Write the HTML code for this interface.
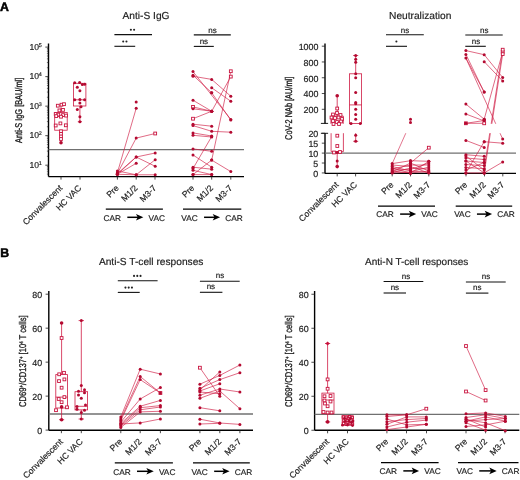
<!DOCTYPE html>
<html><head><meta charset="utf-8"><style>
html,body{margin:0;padding:0;background:#fff;}
svg{display:block;font-family:"Liberation Sans", sans-serif;will-change:transform;text-rendering:geometricPrecision;}
</style></head><body>
<svg width="520" height="480" viewBox="0 0 520 480">
<rect width="520" height="480" fill="#fff"/>
<text x="0.10" y="11.00" font-size="12.3" text-anchor="start" fill="#000" font-weight="bold" stroke="#000" stroke-width="0.5">A</text>
<text x="0.20" y="257.00" font-size="12.3" text-anchor="start" fill="#000" font-weight="bold" stroke="#000" stroke-width="0.5">B</text>
<text x="146.00" y="18.50" font-size="10.2" text-anchor="middle" fill="#1e1e1e" font-weight="normal" stroke="#1e1e1e" stroke-width="0.18">Anti-S IgG</text>
<line x1="48.50" y1="43.50" x2="48.50" y2="176.60" stroke="#000" stroke-width="1.4"/>
<line x1="48.50" y1="176.60" x2="244.00" y2="176.60" stroke="#000" stroke-width="1.4"/>
<line x1="45.30" y1="165.20" x2="48.50" y2="165.20" stroke="#1e1e1e" stroke-width="0.8"/>
<text x="39.00" y="167.80" font-size="8.6" text-anchor="end" fill="#1e1e1e" font-weight="normal" stroke="#1e1e1e" stroke-width="0.18">10</text>
<text x="38.70" y="164.80" font-size="5.4" text-anchor="start" fill="#1e1e1e" font-weight="normal" stroke="#1e1e1e" stroke-width="0.18">1</text>
<line x1="45.30" y1="135.67" x2="48.50" y2="135.67" stroke="#1e1e1e" stroke-width="0.8"/>
<text x="39.00" y="138.27" font-size="8.6" text-anchor="end" fill="#1e1e1e" font-weight="normal" stroke="#1e1e1e" stroke-width="0.18">10</text>
<text x="38.70" y="135.27" font-size="5.4" text-anchor="start" fill="#1e1e1e" font-weight="normal" stroke="#1e1e1e" stroke-width="0.18">2</text>
<line x1="45.30" y1="106.15" x2="48.50" y2="106.15" stroke="#1e1e1e" stroke-width="0.8"/>
<text x="39.00" y="108.75" font-size="8.6" text-anchor="end" fill="#1e1e1e" font-weight="normal" stroke="#1e1e1e" stroke-width="0.18">10</text>
<text x="38.70" y="105.75" font-size="5.4" text-anchor="start" fill="#1e1e1e" font-weight="normal" stroke="#1e1e1e" stroke-width="0.18">3</text>
<line x1="45.30" y1="76.62" x2="48.50" y2="76.62" stroke="#1e1e1e" stroke-width="0.8"/>
<text x="39.00" y="79.22" font-size="8.6" text-anchor="end" fill="#1e1e1e" font-weight="normal" stroke="#1e1e1e" stroke-width="0.18">10</text>
<text x="38.70" y="76.22" font-size="5.4" text-anchor="start" fill="#1e1e1e" font-weight="normal" stroke="#1e1e1e" stroke-width="0.18">4</text>
<line x1="45.30" y1="47.10" x2="48.50" y2="47.10" stroke="#1e1e1e" stroke-width="0.8"/>
<text x="39.00" y="49.70" font-size="8.6" text-anchor="end" fill="#1e1e1e" font-weight="normal" stroke="#1e1e1e" stroke-width="0.18">10</text>
<text x="38.70" y="46.70" font-size="5.4" text-anchor="start" fill="#1e1e1e" font-weight="normal" stroke="#1e1e1e" stroke-width="0.18">5</text>
<line x1="46.90" y1="174.09" x2="48.50" y2="174.09" stroke="#1e1e1e" stroke-width="0.6"/>
<line x1="46.90" y1="171.75" x2="48.50" y2="171.75" stroke="#1e1e1e" stroke-width="0.6"/>
<line x1="46.90" y1="169.77" x2="48.50" y2="169.77" stroke="#1e1e1e" stroke-width="0.6"/>
<line x1="46.90" y1="168.06" x2="48.50" y2="168.06" stroke="#1e1e1e" stroke-width="0.6"/>
<line x1="46.90" y1="166.55" x2="48.50" y2="166.55" stroke="#1e1e1e" stroke-width="0.6"/>
<line x1="46.90" y1="156.31" x2="48.50" y2="156.31" stroke="#1e1e1e" stroke-width="0.6"/>
<line x1="46.90" y1="151.11" x2="48.50" y2="151.11" stroke="#1e1e1e" stroke-width="0.6"/>
<line x1="46.90" y1="147.42" x2="48.50" y2="147.42" stroke="#1e1e1e" stroke-width="0.6"/>
<line x1="46.90" y1="144.56" x2="48.50" y2="144.56" stroke="#1e1e1e" stroke-width="0.6"/>
<line x1="46.90" y1="142.23" x2="48.50" y2="142.23" stroke="#1e1e1e" stroke-width="0.6"/>
<line x1="46.90" y1="140.25" x2="48.50" y2="140.25" stroke="#1e1e1e" stroke-width="0.6"/>
<line x1="46.90" y1="138.54" x2="48.50" y2="138.54" stroke="#1e1e1e" stroke-width="0.6"/>
<line x1="46.90" y1="137.03" x2="48.50" y2="137.03" stroke="#1e1e1e" stroke-width="0.6"/>
<line x1="46.90" y1="126.79" x2="48.50" y2="126.79" stroke="#1e1e1e" stroke-width="0.6"/>
<line x1="46.90" y1="121.59" x2="48.50" y2="121.59" stroke="#1e1e1e" stroke-width="0.6"/>
<line x1="46.90" y1="117.90" x2="48.50" y2="117.90" stroke="#1e1e1e" stroke-width="0.6"/>
<line x1="46.90" y1="115.04" x2="48.50" y2="115.04" stroke="#1e1e1e" stroke-width="0.6"/>
<line x1="46.90" y1="112.70" x2="48.50" y2="112.70" stroke="#1e1e1e" stroke-width="0.6"/>
<line x1="46.90" y1="110.72" x2="48.50" y2="110.72" stroke="#1e1e1e" stroke-width="0.6"/>
<line x1="46.90" y1="109.01" x2="48.50" y2="109.01" stroke="#1e1e1e" stroke-width="0.6"/>
<line x1="46.90" y1="107.50" x2="48.50" y2="107.50" stroke="#1e1e1e" stroke-width="0.6"/>
<line x1="46.90" y1="97.26" x2="48.50" y2="97.26" stroke="#1e1e1e" stroke-width="0.6"/>
<line x1="46.90" y1="92.06" x2="48.50" y2="92.06" stroke="#1e1e1e" stroke-width="0.6"/>
<line x1="46.90" y1="88.37" x2="48.50" y2="88.37" stroke="#1e1e1e" stroke-width="0.6"/>
<line x1="46.90" y1="85.51" x2="48.50" y2="85.51" stroke="#1e1e1e" stroke-width="0.6"/>
<line x1="46.90" y1="83.18" x2="48.50" y2="83.18" stroke="#1e1e1e" stroke-width="0.6"/>
<line x1="46.90" y1="81.20" x2="48.50" y2="81.20" stroke="#1e1e1e" stroke-width="0.6"/>
<line x1="46.90" y1="79.49" x2="48.50" y2="79.49" stroke="#1e1e1e" stroke-width="0.6"/>
<line x1="46.90" y1="77.98" x2="48.50" y2="77.98" stroke="#1e1e1e" stroke-width="0.6"/>
<line x1="46.90" y1="67.74" x2="48.50" y2="67.74" stroke="#1e1e1e" stroke-width="0.6"/>
<line x1="46.90" y1="62.54" x2="48.50" y2="62.54" stroke="#1e1e1e" stroke-width="0.6"/>
<line x1="46.90" y1="58.85" x2="48.50" y2="58.85" stroke="#1e1e1e" stroke-width="0.6"/>
<line x1="46.90" y1="55.99" x2="48.50" y2="55.99" stroke="#1e1e1e" stroke-width="0.6"/>
<line x1="46.90" y1="53.65" x2="48.50" y2="53.65" stroke="#1e1e1e" stroke-width="0.6"/>
<line x1="46.90" y1="51.67" x2="48.50" y2="51.67" stroke="#1e1e1e" stroke-width="0.6"/>
<line x1="46.90" y1="49.96" x2="48.50" y2="49.96" stroke="#1e1e1e" stroke-width="0.6"/>
<line x1="46.90" y1="48.45" x2="48.50" y2="48.45" stroke="#1e1e1e" stroke-width="0.6"/>
<line x1="48.50" y1="149.60" x2="244.00" y2="149.60" stroke="#707070" stroke-width="1.3"/>
<line x1="61.00" y1="176.60" x2="61.00" y2="179.60" stroke="#1e1e1e" stroke-width="0.8"/>
<line x1="80.00" y1="176.60" x2="80.00" y2="179.60" stroke="#1e1e1e" stroke-width="0.8"/>
<line x1="117.40" y1="176.60" x2="117.40" y2="179.60" stroke="#1e1e1e" stroke-width="0.8"/>
<line x1="136.20" y1="176.60" x2="136.20" y2="179.60" stroke="#1e1e1e" stroke-width="0.8"/>
<line x1="155.00" y1="176.60" x2="155.00" y2="179.60" stroke="#1e1e1e" stroke-width="0.8"/>
<line x1="193.00" y1="176.60" x2="193.00" y2="179.60" stroke="#1e1e1e" stroke-width="0.8"/>
<line x1="211.70" y1="176.60" x2="211.70" y2="179.60" stroke="#1e1e1e" stroke-width="0.8"/>
<line x1="230.80" y1="176.60" x2="230.80" y2="179.60" stroke="#1e1e1e" stroke-width="0.8"/>
<text x="0" y="0" font-size="9.8" text-anchor="middle" fill="#1e1e1e" textLength="65.2" lengthAdjust="spacingAndGlyphs" stroke="#1e1e1e" stroke-width="0.35" transform="translate(21.80 110.35) rotate(-90)">Anti-S IgG [BAU/ml]</text>
<line x1="114.40" y1="34.60" x2="152.00" y2="34.60" stroke="#111" stroke-width="1.1"/>
<circle cx="130.88" cy="29.80" r="1.05" fill="#222"/>
<circle cx="134.12" cy="29.80" r="1.05" fill="#222"/>
<line x1="114.40" y1="46.30" x2="135.20" y2="46.30" stroke="#111" stroke-width="1.1"/>
<circle cx="123.22" cy="41.50" r="1.05" fill="#222"/>
<circle cx="126.47" cy="41.50" r="1.05" fill="#222"/>
<line x1="193.80" y1="34.90" x2="230.80" y2="34.90" stroke="#111" stroke-width="1.1"/>
<text x="212.50" y="33.00" font-size="8" text-anchor="middle" fill="#1e1e1e" font-weight="normal" stroke="#1e1e1e" stroke-width="0.18">ns</text>
<line x1="193.80" y1="46.40" x2="213.80" y2="46.40" stroke="#111" stroke-width="1.1"/>
<text x="203.90" y="44.00" font-size="8" text-anchor="middle" fill="#1e1e1e" font-weight="normal" stroke="#1e1e1e" stroke-width="0.18">ns</text>
<text x="63.00" y="188.60" font-size="8.6" text-anchor="end" fill="#1e1e1e" stroke="#1e1e1e" stroke-width="0.18" transform="rotate(-45 63.00 188.60)">Convalescent</text>
<text x="82.00" y="188.60" font-size="8.6" text-anchor="end" fill="#1e1e1e" stroke="#1e1e1e" stroke-width="0.18" transform="rotate(-45 82.00 188.60)">HC VAC</text>
<text x="119.40" y="188.60" font-size="8.6" text-anchor="end" fill="#1e1e1e" stroke="#1e1e1e" stroke-width="0.18" transform="rotate(-45 119.40 188.60)">Pre</text>
<text x="138.20" y="188.60" font-size="8.6" text-anchor="end" fill="#1e1e1e" stroke="#1e1e1e" stroke-width="0.18" transform="rotate(-45 138.20 188.60)">M1/2</text>
<text x="157.00" y="188.60" font-size="8.6" text-anchor="end" fill="#1e1e1e" stroke="#1e1e1e" stroke-width="0.18" transform="rotate(-45 157.00 188.60)">M3-7</text>
<text x="195.00" y="188.60" font-size="8.6" text-anchor="end" fill="#1e1e1e" stroke="#1e1e1e" stroke-width="0.18" transform="rotate(-45 195.00 188.60)">Pre</text>
<text x="213.70" y="188.60" font-size="8.6" text-anchor="end" fill="#1e1e1e" stroke="#1e1e1e" stroke-width="0.18" transform="rotate(-45 213.70 188.60)">M1/2</text>
<text x="232.80" y="188.60" font-size="8.6" text-anchor="end" fill="#1e1e1e" stroke="#1e1e1e" stroke-width="0.18" transform="rotate(-45 232.80 188.60)">M3-7</text>
<line x1="105.80" y1="209.20" x2="162.90" y2="209.20" stroke="#000" stroke-width="1.25"/>
<text x="103.50" y="220.60" font-size="8.3" text-anchor="start" fill="#1e1e1e" font-weight="normal" stroke="#1e1e1e" stroke-width="0.18">CAR</text>
<text x="165.00" y="220.60" font-size="8.3" text-anchor="end" fill="#1e1e1e" font-weight="normal" stroke="#1e1e1e" stroke-width="0.18">VAC</text>
<line x1="127.32" y1="217.30" x2="139.35" y2="217.30" stroke="#000" stroke-width="1.5"/>
<path d="M143.35,217.30 L135.95,214.00 L137.75,217.30 L135.95,220.60 Z" fill="#000"/>
<line x1="183.00" y1="209.20" x2="241.30" y2="209.20" stroke="#000" stroke-width="1.25"/>
<text x="181.30" y="220.60" font-size="8.3" text-anchor="start" fill="#1e1e1e" font-weight="normal" stroke="#1e1e1e" stroke-width="0.18">VAC</text>
<text x="242.80" y="220.60" font-size="8.3" text-anchor="end" fill="#1e1e1e" font-weight="normal" stroke="#1e1e1e" stroke-width="0.18">CAR</text>
<line x1="204.05" y1="217.30" x2="216.08" y2="217.30" stroke="#000" stroke-width="1.5"/>
<path d="M220.08,217.30 L212.68,214.00 L214.48,217.30 L212.68,220.60 Z" fill="#000"/>
<line x1="61.00" y1="104.00" x2="61.00" y2="112.50" stroke="#cf1a43" stroke-width="0.8"/>
<line x1="61.00" y1="130.20" x2="61.00" y2="142.70" stroke="#cf1a43" stroke-width="0.8"/>
<rect x="54.70" y="112.50" width="12.50" height="17.70" fill="none" stroke="#cf1a43" stroke-width="0.8"/>
<line x1="54.70" y1="116.50" x2="67.20" y2="116.50" stroke="#cf1a43" stroke-width="0.8"/>
<rect x="56.40" y="104.30" width="2.8" height="2.8" fill="#fff" stroke="#c8133e" stroke-width="0.9"/>
<rect x="60.10" y="103.30" width="2.8" height="2.8" fill="#fff" stroke="#c8133e" stroke-width="0.9"/>
<rect x="62.60" y="102.80" width="2.8" height="2.8" fill="#fff" stroke="#c8133e" stroke-width="0.9"/>
<rect x="58.00" y="109.00" width="2.8" height="2.8" fill="#fff" stroke="#c8133e" stroke-width="0.9"/>
<rect x="61.60" y="108.50" width="2.8" height="2.8" fill="#fff" stroke="#c8133e" stroke-width="0.9"/>
<rect x="54.30" y="112.60" width="2.8" height="2.8" fill="#fff" stroke="#c8133e" stroke-width="0.9"/>
<rect x="56.90" y="113.20" width="2.8" height="2.8" fill="#fff" stroke="#c8133e" stroke-width="0.9"/>
<rect x="61.60" y="113.70" width="2.8" height="2.8" fill="#fff" stroke="#c8133e" stroke-width="0.9"/>
<rect x="64.70" y="114.20" width="2.8" height="2.8" fill="#fff" stroke="#c8133e" stroke-width="0.9"/>
<rect x="54.85" y="114.70" width="2.8" height="2.8" fill="#fff" stroke="#c8133e" stroke-width="0.9"/>
<rect x="59.60" y="115.30" width="2.8" height="2.8" fill="#fff" stroke="#c8133e" stroke-width="0.9"/>
<rect x="59.00" y="122.00" width="2.8" height="2.8" fill="#fff" stroke="#c8133e" stroke-width="0.9"/>
<rect x="54.30" y="124.10" width="2.8" height="2.8" fill="#fff" stroke="#c8133e" stroke-width="0.9"/>
<rect x="64.40" y="123.90" width="2.8" height="2.8" fill="#fff" stroke="#c8133e" stroke-width="0.9"/>
<rect x="59.60" y="129.85" width="2.8" height="2.8" fill="#fff" stroke="#c8133e" stroke-width="0.9"/>
<rect x="59.60" y="132.50" width="2.8" height="2.8" fill="#fff" stroke="#c8133e" stroke-width="0.9"/>
<rect x="59.60" y="135.10" width="2.8" height="2.8" fill="#fff" stroke="#c8133e" stroke-width="0.9"/>
<rect x="59.60" y="137.60" width="2.8" height="2.8" fill="#fff" stroke="#c8133e" stroke-width="0.9"/>
<circle cx="61.00" cy="142.70" r="1.8" fill="#b40a31"/>
<line x1="79.90" y1="106.00" x2="79.90" y2="121.70" stroke="#cf1a43" stroke-width="0.8"/>
<rect x="73.40" y="83.30" width="12.50" height="22.70" fill="none" stroke="#cf1a43" stroke-width="0.8"/>
<line x1="73.40" y1="99.80" x2="85.90" y2="99.80" stroke="#cf1a43" stroke-width="0.8"/>
<line x1="77.80" y1="121.70" x2="82.00" y2="121.70" stroke="#cf1a43" stroke-width="0.8"/>
<circle cx="74.70" cy="82.80" r="1.5" fill="#b40a31"/>
<circle cx="79.60" cy="82.50" r="1.5" fill="#b40a31"/>
<circle cx="82.30" cy="84.40" r="1.5" fill="#b40a31"/>
<circle cx="84.60" cy="84.20" r="1.5" fill="#b40a31"/>
<circle cx="77.30" cy="87.30" r="1.5" fill="#b40a31"/>
<circle cx="79.90" cy="90.80" r="1.5" fill="#b40a31"/>
<circle cx="74.70" cy="99.80" r="1.5" fill="#b40a31"/>
<circle cx="79.90" cy="99.50" r="1.5" fill="#b40a31"/>
<circle cx="84.60" cy="99.80" r="1.5" fill="#b40a31"/>
<circle cx="79.90" cy="102.90" r="1.5" fill="#b40a31"/>
<circle cx="81.00" cy="106.80" r="1.5" fill="#b40a31"/>
<circle cx="77.30" cy="109.40" r="1.5" fill="#b40a31"/>
<circle cx="79.90" cy="116.70" r="1.5" fill="#b40a31"/>
<circle cx="79.90" cy="121.70" r="1.5" fill="#b40a31"/>
<circle cx="136.20" cy="102.10" r="1.5" fill="#b40a31"/>
<line x1="117.40" y1="172.70" x2="136.20" y2="108.30" stroke="#cf1a43" stroke-width="0.65"/>
<line x1="117.40" y1="173.50" x2="136.20" y2="138.10" stroke="#cf1a43" stroke-width="0.65"/>
<line x1="136.20" y1="138.10" x2="155.20" y2="133.50" stroke="#cf1a43" stroke-width="0.65"/>
<line x1="117.40" y1="174.30" x2="136.20" y2="157.00" stroke="#cf1a43" stroke-width="0.65"/>
<line x1="136.20" y1="157.00" x2="155.20" y2="153.00" stroke="#cf1a43" stroke-width="0.65"/>
<line x1="117.40" y1="173.50" x2="136.20" y2="157.00" stroke="#cf1a43" stroke-width="0.65"/>
<line x1="136.20" y1="157.00" x2="155.20" y2="166.30" stroke="#cf1a43" stroke-width="0.65"/>
<line x1="117.40" y1="174.30" x2="136.20" y2="163.30" stroke="#cf1a43" stroke-width="0.65"/>
<line x1="117.40" y1="170.90" x2="136.20" y2="174.80" stroke="#cf1a43" stroke-width="0.65"/>
<line x1="136.20" y1="174.80" x2="155.20" y2="159.70" stroke="#cf1a43" stroke-width="0.65"/>
<line x1="117.40" y1="174.30" x2="136.20" y2="174.80" stroke="#cf1a43" stroke-width="0.65"/>
<line x1="136.20" y1="174.80" x2="155.20" y2="174.80" stroke="#cf1a43" stroke-width="0.65"/>
<circle cx="117.40" cy="172.70" r="1.5" fill="#b40a31"/>
<circle cx="136.20" cy="108.30" r="1.5" fill="#b40a31"/>
<circle cx="117.40" cy="173.50" r="1.5" fill="#b40a31"/>
<circle cx="136.20" cy="138.10" r="1.5" fill="#b40a31"/>
<rect x="153.80" y="132.10" width="2.8" height="2.8" fill="#fff" stroke="#c8133e" stroke-width="0.9"/>
<circle cx="117.40" cy="174.30" r="1.5" fill="#b40a31"/>
<circle cx="136.20" cy="157.00" r="1.5" fill="#b40a31"/>
<circle cx="155.20" cy="153.00" r="1.5" fill="#b40a31"/>
<circle cx="117.40" cy="173.50" r="1.5" fill="#b40a31"/>
<circle cx="136.20" cy="157.00" r="1.5" fill="#b40a31"/>
<circle cx="155.20" cy="166.30" r="1.5" fill="#b40a31"/>
<circle cx="117.40" cy="174.30" r="1.5" fill="#b40a31"/>
<circle cx="136.20" cy="163.30" r="1.5" fill="#b40a31"/>
<circle cx="117.40" cy="170.90" r="1.5" fill="#b40a31"/>
<circle cx="136.20" cy="174.80" r="1.5" fill="#b40a31"/>
<circle cx="155.20" cy="159.70" r="1.5" fill="#b40a31"/>
<circle cx="117.40" cy="174.30" r="1.5" fill="#b40a31"/>
<circle cx="136.20" cy="174.80" r="1.5" fill="#b40a31"/>
<circle cx="155.20" cy="174.80" r="1.5" fill="#b40a31"/>
<line x1="193.00" y1="71.60" x2="230.80" y2="119.40" stroke="#cf1a43" stroke-width="0.65"/>
<line x1="193.00" y1="76.25" x2="211.70" y2="79.40" stroke="#cf1a43" stroke-width="0.65"/>
<line x1="211.70" y1="79.40" x2="230.80" y2="96.25" stroke="#cf1a43" stroke-width="0.65"/>
<line x1="193.00" y1="75.20" x2="211.70" y2="92.75" stroke="#cf1a43" stroke-width="0.65"/>
<line x1="211.70" y1="87.75" x2="230.80" y2="101.25" stroke="#cf1a43" stroke-width="0.65"/>
<line x1="193.00" y1="100.25" x2="211.70" y2="111.25" stroke="#cf1a43" stroke-width="0.65"/>
<line x1="193.00" y1="106.90" x2="211.70" y2="111.25" stroke="#cf1a43" stroke-width="0.65"/>
<line x1="193.00" y1="108.75" x2="211.70" y2="111.25" stroke="#cf1a43" stroke-width="0.65"/>
<line x1="211.70" y1="111.25" x2="230.80" y2="76.60" stroke="#cf1a43" stroke-width="0.65"/>
<line x1="193.00" y1="118.70" x2="211.70" y2="111.25" stroke="#cf1a43" stroke-width="0.65"/>
<line x1="211.70" y1="92.75" x2="230.80" y2="120.10" stroke="#cf1a43" stroke-width="0.65"/>
<line x1="193.00" y1="124.20" x2="211.70" y2="126.20" stroke="#cf1a43" stroke-width="0.65"/>
<line x1="193.00" y1="125.60" x2="211.70" y2="131.30" stroke="#cf1a43" stroke-width="0.65"/>
<line x1="211.70" y1="131.30" x2="230.80" y2="132.20" stroke="#cf1a43" stroke-width="0.65"/>
<line x1="193.00" y1="132.90" x2="211.70" y2="136.00" stroke="#cf1a43" stroke-width="0.65"/>
<line x1="193.00" y1="135.30" x2="211.70" y2="137.00" stroke="#cf1a43" stroke-width="0.65"/>
<line x1="193.00" y1="148.90" x2="211.70" y2="151.30" stroke="#cf1a43" stroke-width="0.65"/>
<line x1="193.00" y1="155.00" x2="211.70" y2="167.20" stroke="#cf1a43" stroke-width="0.65"/>
<line x1="193.00" y1="168.50" x2="211.70" y2="136.50" stroke="#cf1a43" stroke-width="0.65"/>
<line x1="193.00" y1="174.60" x2="211.70" y2="160.10" stroke="#cf1a43" stroke-width="0.65"/>
<line x1="211.70" y1="160.10" x2="230.80" y2="71.25" stroke="#cf1a43" stroke-width="0.65"/>
<line x1="193.00" y1="167.20" x2="211.70" y2="169.20" stroke="#cf1a43" stroke-width="0.65"/>
<line x1="193.00" y1="170.30" x2="211.70" y2="174.60" stroke="#cf1a43" stroke-width="0.65"/>
<line x1="193.00" y1="174.60" x2="211.70" y2="174.60" stroke="#cf1a43" stroke-width="0.65"/>
<line x1="211.70" y1="160.10" x2="230.80" y2="171.60" stroke="#cf1a43" stroke-width="0.65"/>
<circle cx="193.00" cy="71.60" r="1.5" fill="#b40a31"/>
<circle cx="230.80" cy="119.40" r="1.5" fill="#b40a31"/>
<circle cx="193.00" cy="76.25" r="1.5" fill="#b40a31"/>
<circle cx="211.70" cy="79.40" r="1.5" fill="#b40a31"/>
<circle cx="230.80" cy="96.25" r="1.5" fill="#b40a31"/>
<circle cx="193.00" cy="75.20" r="1.5" fill="#b40a31"/>
<circle cx="211.70" cy="92.75" r="1.5" fill="#b40a31"/>
<circle cx="211.70" cy="87.75" r="1.5" fill="#b40a31"/>
<circle cx="230.80" cy="101.25" r="1.5" fill="#b40a31"/>
<circle cx="193.00" cy="100.25" r="1.5" fill="#b40a31"/>
<circle cx="211.70" cy="111.25" r="1.5" fill="#b40a31"/>
<rect x="191.60" y="105.50" width="2.8" height="2.8" fill="#fff" stroke="#c8133e" stroke-width="0.9"/>
<circle cx="211.70" cy="111.25" r="1.5" fill="#b40a31"/>
<circle cx="193.00" cy="108.75" r="1.5" fill="#b40a31"/>
<circle cx="211.70" cy="111.25" r="1.5" fill="#b40a31"/>
<rect x="229.40" y="75.20" width="2.8" height="2.8" fill="#fff" stroke="#c8133e" stroke-width="0.9"/>
<rect x="191.60" y="117.30" width="2.8" height="2.8" fill="#fff" stroke="#c8133e" stroke-width="0.9"/>
<circle cx="211.70" cy="111.25" r="1.5" fill="#b40a31"/>
<circle cx="211.70" cy="92.75" r="1.5" fill="#b40a31"/>
<circle cx="230.80" cy="120.10" r="1.5" fill="#b40a31"/>
<circle cx="193.00" cy="124.20" r="1.5" fill="#b40a31"/>
<circle cx="211.70" cy="126.20" r="1.5" fill="#b40a31"/>
<circle cx="193.00" cy="125.60" r="1.5" fill="#b40a31"/>
<circle cx="211.70" cy="131.30" r="1.5" fill="#b40a31"/>
<circle cx="230.80" cy="132.20" r="1.5" fill="#b40a31"/>
<circle cx="193.00" cy="132.90" r="1.5" fill="#b40a31"/>
<circle cx="211.70" cy="136.00" r="1.5" fill="#b40a31"/>
<circle cx="193.00" cy="135.30" r="1.5" fill="#b40a31"/>
<circle cx="211.70" cy="137.00" r="1.5" fill="#b40a31"/>
<circle cx="193.00" cy="148.90" r="1.5" fill="#b40a31"/>
<circle cx="211.70" cy="151.30" r="1.5" fill="#b40a31"/>
<circle cx="193.00" cy="155.00" r="1.5" fill="#b40a31"/>
<circle cx="211.70" cy="167.20" r="1.5" fill="#b40a31"/>
<circle cx="193.00" cy="168.50" r="1.5" fill="#b40a31"/>
<circle cx="211.70" cy="136.50" r="1.5" fill="#b40a31"/>
<circle cx="193.00" cy="174.60" r="1.5" fill="#b40a31"/>
<circle cx="211.70" cy="160.10" r="1.5" fill="#b40a31"/>
<rect x="229.40" y="69.85" width="2.8" height="2.8" fill="#fff" stroke="#c8133e" stroke-width="0.9"/>
<circle cx="193.00" cy="167.20" r="1.5" fill="#b40a31"/>
<circle cx="211.70" cy="169.20" r="1.5" fill="#b40a31"/>
<circle cx="193.00" cy="170.30" r="1.5" fill="#b40a31"/>
<circle cx="211.70" cy="174.60" r="1.5" fill="#b40a31"/>
<circle cx="193.00" cy="174.60" r="1.5" fill="#b40a31"/>
<circle cx="211.70" cy="174.60" r="1.5" fill="#b40a31"/>
<circle cx="211.70" cy="160.10" r="1.5" fill="#b40a31"/>
<circle cx="230.80" cy="171.60" r="1.5" fill="#b40a31"/>
<text x="420.20" y="18.70" font-size="10.2" text-anchor="middle" fill="#1e1e1e" font-weight="normal" stroke="#1e1e1e" stroke-width="0.18">Neutralization</text>
<line x1="325.00" y1="43.40" x2="325.00" y2="123.40" stroke="#000" stroke-width="1.4"/>
<line x1="325.00" y1="133.30" x2="325.00" y2="173.40" stroke="#000" stroke-width="1.4"/>
<line x1="325.00" y1="173.40" x2="516.00" y2="173.40" stroke="#000" stroke-width="1.4"/>
<line x1="321.80" y1="109.30" x2="325.00" y2="109.30" stroke="#1e1e1e" stroke-width="0.8"/>
<text x="318.40" y="113.10" font-size="8.9" text-anchor="end" fill="#1e1e1e" font-weight="normal" stroke="#1e1e1e" stroke-width="0.18">200</text>
<line x1="321.80" y1="93.52" x2="325.00" y2="93.52" stroke="#1e1e1e" stroke-width="0.8"/>
<text x="318.40" y="97.32" font-size="8.9" text-anchor="end" fill="#1e1e1e" font-weight="normal" stroke="#1e1e1e" stroke-width="0.18">400</text>
<line x1="321.80" y1="77.74" x2="325.00" y2="77.74" stroke="#1e1e1e" stroke-width="0.8"/>
<text x="318.40" y="81.54" font-size="8.9" text-anchor="end" fill="#1e1e1e" font-weight="normal" stroke="#1e1e1e" stroke-width="0.18">600</text>
<line x1="321.80" y1="61.96" x2="325.00" y2="61.96" stroke="#1e1e1e" stroke-width="0.8"/>
<text x="318.40" y="65.76" font-size="8.9" text-anchor="end" fill="#1e1e1e" font-weight="normal" stroke="#1e1e1e" stroke-width="0.18">800</text>
<line x1="321.80" y1="46.18" x2="325.00" y2="46.18" stroke="#1e1e1e" stroke-width="0.8"/>
<text x="318.40" y="49.98" font-size="8.9" text-anchor="end" fill="#1e1e1e" font-weight="normal" stroke="#1e1e1e" stroke-width="0.18">1000</text>
<line x1="320.90" y1="123.40" x2="328.10" y2="123.40" stroke="#000" stroke-width="0.9"/>
<line x1="320.90" y1="133.30" x2="328.10" y2="133.30" stroke="#000" stroke-width="0.9"/>
<line x1="321.80" y1="172.95" x2="325.00" y2="172.95" stroke="#1e1e1e" stroke-width="0.8"/>
<text x="318.30" y="176.75" font-size="8.9" text-anchor="end" fill="#1e1e1e" font-weight="normal" stroke="#1e1e1e" stroke-width="0.18">0</text>
<line x1="321.80" y1="163.02" x2="325.00" y2="163.02" stroke="#1e1e1e" stroke-width="0.8"/>
<text x="318.30" y="166.82" font-size="8.9" text-anchor="end" fill="#1e1e1e" font-weight="normal" stroke="#1e1e1e" stroke-width="0.18">5</text>
<line x1="321.80" y1="153.10" x2="325.00" y2="153.10" stroke="#1e1e1e" stroke-width="0.8"/>
<text x="318.30" y="156.90" font-size="8.9" text-anchor="end" fill="#1e1e1e" font-weight="normal" stroke="#1e1e1e" stroke-width="0.18">10</text>
<line x1="321.80" y1="143.17" x2="325.00" y2="143.17" stroke="#1e1e1e" stroke-width="0.8"/>
<text x="318.30" y="146.97" font-size="8.9" text-anchor="end" fill="#1e1e1e" font-weight="normal" stroke="#1e1e1e" stroke-width="0.18">15</text>
<line x1="321.80" y1="133.25" x2="325.00" y2="133.25" stroke="#1e1e1e" stroke-width="0.8"/>
<text x="318.30" y="137.05" font-size="8.9" text-anchor="end" fill="#1e1e1e" font-weight="normal" stroke="#1e1e1e" stroke-width="0.18">20</text>
<line x1="325.00" y1="153.20" x2="516.00" y2="153.20" stroke="#707070" stroke-width="1.3"/>
<line x1="337.20" y1="173.40" x2="337.20" y2="176.40" stroke="#1e1e1e" stroke-width="0.8"/>
<line x1="355.60" y1="173.40" x2="355.60" y2="176.40" stroke="#1e1e1e" stroke-width="0.8"/>
<line x1="392.20" y1="173.40" x2="392.20" y2="176.40" stroke="#1e1e1e" stroke-width="0.8"/>
<line x1="410.50" y1="173.40" x2="410.50" y2="176.40" stroke="#1e1e1e" stroke-width="0.8"/>
<line x1="428.80" y1="173.40" x2="428.80" y2="176.40" stroke="#1e1e1e" stroke-width="0.8"/>
<line x1="466.00" y1="173.40" x2="466.00" y2="176.40" stroke="#1e1e1e" stroke-width="0.8"/>
<line x1="484.50" y1="173.40" x2="484.50" y2="176.40" stroke="#1e1e1e" stroke-width="0.8"/>
<line x1="502.80" y1="173.40" x2="502.80" y2="176.40" stroke="#1e1e1e" stroke-width="0.8"/>
<text x="0" y="0" font-size="9.8" text-anchor="middle" fill="#1e1e1e" textLength="63.2" lengthAdjust="spacingAndGlyphs" stroke="#1e1e1e" stroke-width="0.35" transform="translate(292.00 108.35) rotate(-90)">CoV-2 NAb [AU/ml]</text>
<line x1="386.00" y1="34.80" x2="423.80" y2="34.80" stroke="#111" stroke-width="1.1"/>
<text x="405.10" y="33.00" font-size="8" text-anchor="middle" fill="#1e1e1e" font-weight="normal" stroke="#1e1e1e" stroke-width="0.18">ns</text>
<line x1="386.00" y1="46.30" x2="407.00" y2="46.30" stroke="#111" stroke-width="1.1"/>
<circle cx="396.40" cy="41.50" r="1.05" fill="#222"/>
<line x1="465.30" y1="35.00" x2="502.70" y2="35.00" stroke="#111" stroke-width="1.1"/>
<text x="484.20" y="33.00" font-size="8" text-anchor="middle" fill="#1e1e1e" font-weight="normal" stroke="#1e1e1e" stroke-width="0.18">ns</text>
<line x1="465.30" y1="46.30" x2="485.80" y2="46.30" stroke="#111" stroke-width="1.1"/>
<text x="476.00" y="44.00" font-size="8" text-anchor="middle" fill="#1e1e1e" font-weight="normal" stroke="#1e1e1e" stroke-width="0.18">ns</text>
<text x="339.20" y="185.30" font-size="8.6" text-anchor="end" fill="#1e1e1e" stroke="#1e1e1e" stroke-width="0.18" transform="rotate(-45 339.20 185.30)">Convalescent</text>
<text x="357.60" y="185.30" font-size="8.6" text-anchor="end" fill="#1e1e1e" stroke="#1e1e1e" stroke-width="0.18" transform="rotate(-45 357.60 185.30)">HC VAC</text>
<text x="394.20" y="185.30" font-size="8.6" text-anchor="end" fill="#1e1e1e" stroke="#1e1e1e" stroke-width="0.18" transform="rotate(-45 394.20 185.30)">Pre</text>
<text x="412.50" y="185.30" font-size="8.6" text-anchor="end" fill="#1e1e1e" stroke="#1e1e1e" stroke-width="0.18" transform="rotate(-45 412.50 185.30)">M1/2</text>
<text x="430.80" y="185.30" font-size="8.6" text-anchor="end" fill="#1e1e1e" stroke="#1e1e1e" stroke-width="0.18" transform="rotate(-45 430.80 185.30)">M3-7</text>
<text x="468.00" y="185.30" font-size="8.6" text-anchor="end" fill="#1e1e1e" stroke="#1e1e1e" stroke-width="0.18" transform="rotate(-45 468.00 185.30)">Pre</text>
<text x="486.50" y="185.30" font-size="8.6" text-anchor="end" fill="#1e1e1e" stroke="#1e1e1e" stroke-width="0.18" transform="rotate(-45 486.50 185.30)">M1/2</text>
<text x="504.80" y="185.30" font-size="8.6" text-anchor="end" fill="#1e1e1e" stroke="#1e1e1e" stroke-width="0.18" transform="rotate(-45 504.80 185.30)">M3-7</text>
<line x1="378.00" y1="206.00" x2="435.00" y2="206.00" stroke="#000" stroke-width="1.25"/>
<text x="376.30" y="217.40" font-size="8.3" text-anchor="start" fill="#1e1e1e" font-weight="normal" stroke="#1e1e1e" stroke-width="0.18">CAR</text>
<text x="437.80" y="217.40" font-size="8.3" text-anchor="end" fill="#1e1e1e" font-weight="normal" stroke="#1e1e1e" stroke-width="0.18">VAC</text>
<line x1="400.12" y1="214.10" x2="412.15" y2="214.10" stroke="#000" stroke-width="1.5"/>
<path d="M416.15,214.10 L408.75,210.80 L410.55,214.10 L408.75,217.40 Z" fill="#000"/>
<line x1="455.70" y1="206.00" x2="512.20" y2="206.00" stroke="#000" stroke-width="1.25"/>
<text x="454.20" y="217.40" font-size="8.3" text-anchor="start" fill="#1e1e1e" font-weight="normal" stroke="#1e1e1e" stroke-width="0.18">VAC</text>
<text x="514.80" y="217.40" font-size="8.3" text-anchor="end" fill="#1e1e1e" font-weight="normal" stroke="#1e1e1e" stroke-width="0.18">CAR</text>
<line x1="476.95" y1="214.10" x2="488.08" y2="214.10" stroke="#000" stroke-width="1.5"/>
<path d="M492.08,214.10 L484.68,210.80 L486.48,214.10 L484.68,217.40 Z" fill="#000"/>
<line x1="337.20" y1="95.70" x2="337.20" y2="116.00" stroke="#cf1a43" stroke-width="0.8"/>
<line x1="330.90" y1="116.00" x2="343.30" y2="116.00" stroke="#cf1a43" stroke-width="0.8"/>
<line x1="330.90" y1="116.00" x2="330.90" y2="123.80" stroke="#cf1a43" stroke-width="0.8"/>
<line x1="343.30" y1="116.00" x2="343.30" y2="123.80" stroke="#cf1a43" stroke-width="0.8"/>
<line x1="331.10" y1="133.20" x2="331.10" y2="151.60" stroke="#cf1a43" stroke-width="0.8"/>
<line x1="343.40" y1="133.20" x2="343.40" y2="151.60" stroke="#cf1a43" stroke-width="0.8"/>
<line x1="331.10" y1="151.60" x2="343.40" y2="151.60" stroke="#cf1a43" stroke-width="0.8"/>
<line x1="337.20" y1="151.60" x2="337.20" y2="166.60" stroke="#cf1a43" stroke-width="0.8"/>
<rect x="335.80" y="107.10" width="2.8" height="2.8" fill="#fff" stroke="#c8133e" stroke-width="0.9"/>
<rect x="331.60" y="113.10" width="2.8" height="2.8" fill="#fff" stroke="#c8133e" stroke-width="0.9"/>
<rect x="335.60" y="111.60" width="2.8" height="2.8" fill="#fff" stroke="#c8133e" stroke-width="0.9"/>
<rect x="339.10" y="113.60" width="2.8" height="2.8" fill="#fff" stroke="#c8133e" stroke-width="0.9"/>
<rect x="330.10" y="116.10" width="2.8" height="2.8" fill="#fff" stroke="#c8133e" stroke-width="0.9"/>
<rect x="333.60" y="116.60" width="2.8" height="2.8" fill="#fff" stroke="#c8133e" stroke-width="0.9"/>
<rect x="337.10" y="116.10" width="2.8" height="2.8" fill="#fff" stroke="#c8133e" stroke-width="0.9"/>
<rect x="340.60" y="117.60" width="2.8" height="2.8" fill="#fff" stroke="#c8133e" stroke-width="0.9"/>
<rect x="331.60" y="119.60" width="2.8" height="2.8" fill="#fff" stroke="#c8133e" stroke-width="0.9"/>
<rect x="335.60" y="120.60" width="2.8" height="2.8" fill="#fff" stroke="#c8133e" stroke-width="0.9"/>
<rect x="339.60" y="120.10" width="2.8" height="2.8" fill="#fff" stroke="#c8133e" stroke-width="0.9"/>
<rect x="332.10" y="122.60" width="2.8" height="2.8" fill="#fff" stroke="#c8133e" stroke-width="0.9"/>
<rect x="337.60" y="122.60" width="2.8" height="2.8" fill="#fff" stroke="#c8133e" stroke-width="0.9"/>
<rect x="335.90" y="134.30" width="2.8" height="2.8" fill="#fff" stroke="#c8133e" stroke-width="0.9"/>
<rect x="335.90" y="144.60" width="2.8" height="2.8" fill="#fff" stroke="#c8133e" stroke-width="0.9"/>
<rect x="332.60" y="151.10" width="2.8" height="2.8" fill="#fff" stroke="#c8133e" stroke-width="0.9"/>
<rect x="338.60" y="150.60" width="2.8" height="2.8" fill="#fff" stroke="#c8133e" stroke-width="0.9"/>
<circle cx="337.20" cy="95.70" r="1.8" fill="#b40a31"/>
<circle cx="337.20" cy="152.50" r="1.5" fill="#b40a31"/>
<circle cx="337.20" cy="161.00" r="1.5" fill="#b40a31"/>
<circle cx="337.20" cy="166.60" r="1.8" fill="#b40a31"/>
<line x1="355.70" y1="55.50" x2="355.70" y2="73.80" stroke="#cf1a43" stroke-width="0.8"/>
<rect x="349.50" y="73.80" width="12.10" height="49.80" fill="none" stroke="#cf1a43" stroke-width="0.8"/>
<line x1="349.50" y1="104.90" x2="361.60" y2="104.90" stroke="#cf1a43" stroke-width="0.8"/>
<line x1="353.10" y1="55.50" x2="358.20" y2="55.50" stroke="#cf1a43" stroke-width="0.8"/>
<line x1="355.70" y1="133.20" x2="355.70" y2="141.30" stroke="#cf1a43" stroke-width="0.8"/>
<line x1="353.20" y1="141.30" x2="358.20" y2="141.30" stroke="#cf1a43" stroke-width="0.8"/>
<circle cx="355.70" cy="55.50" r="1.5" fill="#b40a31"/>
<circle cx="355.70" cy="59.20" r="1.5" fill="#b40a31"/>
<circle cx="355.70" cy="62.30" r="1.5" fill="#b40a31"/>
<circle cx="355.70" cy="73.80" r="1.5" fill="#b40a31"/>
<circle cx="355.70" cy="77.80" r="1.5" fill="#b40a31"/>
<circle cx="355.70" cy="92.60" r="1.5" fill="#b40a31"/>
<circle cx="355.70" cy="102.40" r="1.5" fill="#b40a31"/>
<circle cx="355.70" cy="103.80" r="1.5" fill="#b40a31"/>
<circle cx="355.70" cy="109.20" r="1.5" fill="#b40a31"/>
<circle cx="355.70" cy="114.50" r="1.5" fill="#b40a31"/>
<circle cx="355.70" cy="119.30" r="1.5" fill="#b40a31"/>
<circle cx="355.70" cy="135.30" r="1.5" fill="#b40a31"/>
<circle cx="355.70" cy="141.30" r="1.5" fill="#b40a31"/>
<circle cx="351.00" cy="123.50" r="1.5" fill="#b40a31"/>
<circle cx="360.30" cy="123.50" r="1.5" fill="#b40a31"/>
<line x1="392.20" y1="163.60" x2="405.80" y2="133.20" stroke="#cf1a43" stroke-width="0.6"/>
<circle cx="410.50" cy="119.20" r="1.5" fill="#b40a31"/>
<circle cx="410.50" cy="122.50" r="1.5" fill="#b40a31"/>
<line x1="392.20" y1="163.60" x2="410.50" y2="160.70" stroke="#cf1a43" stroke-width="0.65"/>
<line x1="392.20" y1="165.00" x2="410.50" y2="166.50" stroke="#cf1a43" stroke-width="0.65"/>
<line x1="392.20" y1="166.50" x2="410.50" y2="171.00" stroke="#cf1a43" stroke-width="0.65"/>
<line x1="392.20" y1="168.00" x2="410.50" y2="173.00" stroke="#cf1a43" stroke-width="0.65"/>
<line x1="392.20" y1="169.00" x2="410.50" y2="165.00" stroke="#cf1a43" stroke-width="0.65"/>
<line x1="392.20" y1="170.00" x2="410.50" y2="169.50" stroke="#cf1a43" stroke-width="0.65"/>
<line x1="392.20" y1="171.00" x2="410.50" y2="173.00" stroke="#cf1a43" stroke-width="0.65"/>
<line x1="392.20" y1="171.80" x2="410.50" y2="163.00" stroke="#cf1a43" stroke-width="0.65"/>
<line x1="392.20" y1="172.50" x2="410.50" y2="168.00" stroke="#cf1a43" stroke-width="0.65"/>
<line x1="392.20" y1="173.00" x2="410.50" y2="172.00" stroke="#cf1a43" stroke-width="0.65"/>
<line x1="410.50" y1="160.70" x2="428.80" y2="161.30" stroke="#cf1a43" stroke-width="0.65"/>
<line x1="410.50" y1="163.00" x2="428.80" y2="171.00" stroke="#cf1a43" stroke-width="0.65"/>
<line x1="410.50" y1="165.00" x2="428.80" y2="165.00" stroke="#cf1a43" stroke-width="0.65"/>
<line x1="410.50" y1="166.50" x2="428.80" y2="173.00" stroke="#cf1a43" stroke-width="0.65"/>
<line x1="410.50" y1="168.00" x2="428.80" y2="169.00" stroke="#cf1a43" stroke-width="0.65"/>
<line x1="410.50" y1="169.50" x2="428.80" y2="163.00" stroke="#cf1a43" stroke-width="0.65"/>
<line x1="410.50" y1="171.00" x2="428.80" y2="172.50" stroke="#cf1a43" stroke-width="0.65"/>
<line x1="410.50" y1="172.00" x2="428.80" y2="167.00" stroke="#cf1a43" stroke-width="0.65"/>
<line x1="410.50" y1="173.00" x2="428.80" y2="161.30" stroke="#cf1a43" stroke-width="0.65"/>
<line x1="410.50" y1="173.00" x2="428.80" y2="171.00" stroke="#cf1a43" stroke-width="0.65"/>
<line x1="410.50" y1="163.00" x2="428.80" y2="147.70" stroke="#cf1a43" stroke-width="0.65"/>
<circle cx="392.20" cy="163.60" r="1.5" fill="#b40a31"/>
<circle cx="410.50" cy="160.70" r="1.5" fill="#b40a31"/>
<circle cx="392.20" cy="165.00" r="1.5" fill="#b40a31"/>
<circle cx="410.50" cy="166.50" r="1.5" fill="#b40a31"/>
<circle cx="392.20" cy="166.50" r="1.5" fill="#b40a31"/>
<circle cx="410.50" cy="171.00" r="1.5" fill="#b40a31"/>
<circle cx="392.20" cy="168.00" r="1.5" fill="#b40a31"/>
<circle cx="410.50" cy="173.00" r="1.5" fill="#b40a31"/>
<circle cx="392.20" cy="169.00" r="1.5" fill="#b40a31"/>
<circle cx="410.50" cy="165.00" r="1.5" fill="#b40a31"/>
<circle cx="392.20" cy="170.00" r="1.5" fill="#b40a31"/>
<circle cx="410.50" cy="169.50" r="1.5" fill="#b40a31"/>
<circle cx="392.20" cy="171.00" r="1.5" fill="#b40a31"/>
<circle cx="410.50" cy="173.00" r="1.5" fill="#b40a31"/>
<circle cx="392.20" cy="171.80" r="1.5" fill="#b40a31"/>
<circle cx="410.50" cy="163.00" r="1.5" fill="#b40a31"/>
<circle cx="392.20" cy="172.50" r="1.5" fill="#b40a31"/>
<circle cx="410.50" cy="168.00" r="1.5" fill="#b40a31"/>
<circle cx="392.20" cy="173.00" r="1.5" fill="#b40a31"/>
<circle cx="410.50" cy="172.00" r="1.5" fill="#b40a31"/>
<circle cx="410.50" cy="160.70" r="1.5" fill="#b40a31"/>
<circle cx="428.80" cy="161.30" r="1.5" fill="#b40a31"/>
<circle cx="410.50" cy="163.00" r="1.5" fill="#b40a31"/>
<circle cx="428.80" cy="171.00" r="1.5" fill="#b40a31"/>
<circle cx="410.50" cy="165.00" r="1.5" fill="#b40a31"/>
<circle cx="428.80" cy="165.00" r="1.5" fill="#b40a31"/>
<circle cx="410.50" cy="166.50" r="1.5" fill="#b40a31"/>
<circle cx="428.80" cy="173.00" r="1.5" fill="#b40a31"/>
<circle cx="410.50" cy="168.00" r="1.5" fill="#b40a31"/>
<circle cx="428.80" cy="169.00" r="1.5" fill="#b40a31"/>
<circle cx="410.50" cy="169.50" r="1.5" fill="#b40a31"/>
<circle cx="428.80" cy="163.00" r="1.5" fill="#b40a31"/>
<circle cx="410.50" cy="171.00" r="1.5" fill="#b40a31"/>
<circle cx="428.80" cy="172.50" r="1.5" fill="#b40a31"/>
<circle cx="410.50" cy="172.00" r="1.5" fill="#b40a31"/>
<circle cx="428.80" cy="167.00" r="1.5" fill="#b40a31"/>
<circle cx="410.50" cy="173.00" r="1.5" fill="#b40a31"/>
<circle cx="428.80" cy="161.30" r="1.5" fill="#b40a31"/>
<circle cx="410.50" cy="173.00" r="1.5" fill="#b40a31"/>
<circle cx="428.80" cy="171.00" r="1.5" fill="#b40a31"/>
<circle cx="410.50" cy="163.00" r="1.5" fill="#b40a31"/>
<rect x="427.40" y="146.30" width="2.8" height="2.8" fill="#fff" stroke="#c8133e" stroke-width="0.9"/>
<line x1="465.90" y1="58.10" x2="495.75" y2="123.80" stroke="#cf1a43" stroke-width="0.65"/>
<line x1="500.02" y1="133.20" x2="502.70" y2="139.10" stroke="#cf1a43" stroke-width="0.65"/>
<line x1="484.20" y1="172.90" x2="490.38" y2="133.20" stroke="#cf1a43" stroke-width="0.65"/>
<line x1="491.85" y1="123.80" x2="502.70" y2="54.10" stroke="#cf1a43" stroke-width="0.65"/>
<line x1="484.20" y1="168.70" x2="489.72" y2="133.20" stroke="#cf1a43" stroke-width="0.65"/>
<line x1="491.18" y1="123.80" x2="502.70" y2="49.70" stroke="#cf1a43" stroke-width="0.65"/>
<line x1="465.90" y1="50.60" x2="484.20" y2="54.70" stroke="#cf1a43" stroke-width="0.65"/>
<line x1="484.20" y1="54.70" x2="502.70" y2="77.50" stroke="#cf1a43" stroke-width="0.65"/>
<line x1="484.20" y1="61.70" x2="502.70" y2="81.00" stroke="#cf1a43" stroke-width="0.65"/>
<line x1="465.90" y1="54.40" x2="484.20" y2="92.10" stroke="#cf1a43" stroke-width="0.65"/>
<line x1="465.90" y1="58.10" x2="484.20" y2="92.10" stroke="#cf1a43" stroke-width="0.65"/>
<line x1="465.90" y1="104.10" x2="484.20" y2="119.20" stroke="#cf1a43" stroke-width="0.65"/>
<line x1="465.90" y1="114.00" x2="484.20" y2="121.00" stroke="#cf1a43" stroke-width="0.65"/>
<line x1="465.90" y1="123.30" x2="484.20" y2="123.30" stroke="#cf1a43" stroke-width="0.65"/>
<line x1="465.90" y1="123.30" x2="484.20" y2="120.50" stroke="#cf1a43" stroke-width="0.65"/>
<line x1="484.20" y1="119.20" x2="502.70" y2="51.80" stroke="#cf1a43" stroke-width="0.65"/>
<line x1="465.90" y1="140.40" x2="484.20" y2="147.40" stroke="#cf1a43" stroke-width="0.65"/>
<line x1="484.20" y1="141.70" x2="502.70" y2="143.20" stroke="#cf1a43" stroke-width="0.65"/>
<line x1="465.90" y1="172.90" x2="484.20" y2="141.70" stroke="#cf1a43" stroke-width="0.65"/>
<line x1="484.20" y1="172.90" x2="502.70" y2="162.00" stroke="#cf1a43" stroke-width="0.65"/>
<line x1="465.90" y1="172.90" x2="484.20" y2="172.90" stroke="#cf1a43" stroke-width="0.65"/>
<line x1="465.90" y1="154.70" x2="484.20" y2="156.30" stroke="#cf1a43" stroke-width="0.65"/>
<line x1="465.90" y1="158.00" x2="484.20" y2="159.50" stroke="#cf1a43" stroke-width="0.65"/>
<line x1="465.90" y1="161.00" x2="484.20" y2="162.50" stroke="#cf1a43" stroke-width="0.65"/>
<line x1="465.90" y1="164.50" x2="484.20" y2="165.60" stroke="#cf1a43" stroke-width="0.65"/>
<line x1="465.90" y1="167.50" x2="484.20" y2="168.70" stroke="#cf1a43" stroke-width="0.65"/>
<line x1="465.90" y1="170.00" x2="484.20" y2="162.50" stroke="#cf1a43" stroke-width="0.65"/>
<line x1="465.90" y1="161.00" x2="484.20" y2="172.90" stroke="#cf1a43" stroke-width="0.65"/>
<line x1="465.90" y1="156.00" x2="484.20" y2="170.00" stroke="#cf1a43" stroke-width="0.65"/>
<circle cx="465.90" cy="50.60" r="1.5" fill="#b40a31"/>
<circle cx="484.20" cy="54.70" r="1.5" fill="#b40a31"/>
<circle cx="502.70" cy="77.50" r="1.5" fill="#b40a31"/>
<circle cx="484.20" cy="61.70" r="1.5" fill="#b40a31"/>
<circle cx="502.70" cy="81.00" r="1.5" fill="#b40a31"/>
<circle cx="465.90" cy="54.40" r="1.5" fill="#b40a31"/>
<circle cx="484.20" cy="92.10" r="1.5" fill="#b40a31"/>
<circle cx="465.90" cy="58.10" r="1.5" fill="#b40a31"/>
<circle cx="484.20" cy="92.10" r="1.5" fill="#b40a31"/>
<circle cx="465.90" cy="104.10" r="1.5" fill="#b40a31"/>
<circle cx="484.20" cy="119.20" r="1.5" fill="#b40a31"/>
<circle cx="465.90" cy="114.00" r="1.5" fill="#b40a31"/>
<circle cx="484.20" cy="121.00" r="1.5" fill="#b40a31"/>
<rect x="464.50" y="121.90" width="2.8" height="2.8" fill="#fff" stroke="#c8133e" stroke-width="0.9"/>
<rect x="482.80" y="121.90" width="2.8" height="2.8" fill="#fff" stroke="#c8133e" stroke-width="0.9"/>
<circle cx="465.90" cy="123.30" r="1.5" fill="#b40a31"/>
<circle cx="484.20" cy="120.50" r="1.5" fill="#b40a31"/>
<circle cx="484.20" cy="119.20" r="1.5" fill="#b40a31"/>
<rect x="501.30" y="50.40" width="2.8" height="2.8" fill="#fff" stroke="#c8133e" stroke-width="0.9"/>
<circle cx="465.90" cy="140.40" r="1.5" fill="#b40a31"/>
<circle cx="484.20" cy="147.40" r="1.5" fill="#b40a31"/>
<circle cx="484.20" cy="141.70" r="1.5" fill="#b40a31"/>
<circle cx="502.70" cy="143.20" r="1.5" fill="#b40a31"/>
<circle cx="465.90" cy="172.90" r="1.5" fill="#b40a31"/>
<circle cx="484.20" cy="141.70" r="1.5" fill="#b40a31"/>
<circle cx="484.20" cy="172.90" r="1.5" fill="#b40a31"/>
<circle cx="502.70" cy="162.00" r="1.5" fill="#b40a31"/>
<circle cx="465.90" cy="172.90" r="1.5" fill="#b40a31"/>
<circle cx="484.20" cy="172.90" r="1.5" fill="#b40a31"/>
<circle cx="465.90" cy="154.70" r="1.5" fill="#b40a31"/>
<circle cx="484.20" cy="156.30" r="1.5" fill="#b40a31"/>
<circle cx="465.90" cy="158.00" r="1.5" fill="#b40a31"/>
<circle cx="484.20" cy="159.50" r="1.5" fill="#b40a31"/>
<circle cx="465.90" cy="161.00" r="1.5" fill="#b40a31"/>
<circle cx="484.20" cy="162.50" r="1.5" fill="#b40a31"/>
<circle cx="465.90" cy="164.50" r="1.5" fill="#b40a31"/>
<circle cx="484.20" cy="165.60" r="1.5" fill="#b40a31"/>
<circle cx="465.90" cy="167.50" r="1.5" fill="#b40a31"/>
<circle cx="484.20" cy="168.70" r="1.5" fill="#b40a31"/>
<circle cx="465.90" cy="170.00" r="1.5" fill="#b40a31"/>
<circle cx="484.20" cy="162.50" r="1.5" fill="#b40a31"/>
<circle cx="465.90" cy="161.00" r="1.5" fill="#b40a31"/>
<circle cx="484.20" cy="172.90" r="1.5" fill="#b40a31"/>
<circle cx="465.90" cy="156.00" r="1.5" fill="#b40a31"/>
<circle cx="484.20" cy="170.00" r="1.5" fill="#b40a31"/>
<rect x="501.30" y="48.30" width="2.8" height="2.8" fill="#fff" stroke="#c8133e" stroke-width="0.9"/>
<rect x="501.30" y="52.70" width="2.8" height="2.8" fill="#fff" stroke="#c8133e" stroke-width="0.9"/>
<circle cx="502.70" cy="139.10" r="1.5" fill="#b40a31"/>
<text x="151.20" y="265.30" font-size="10.2" text-anchor="middle" fill="#1e1e1e" font-weight="normal" stroke="#1e1e1e" stroke-width="0.18">Anti-S T-cell responses</text>
<line x1="48.80" y1="291.00" x2="48.80" y2="430.20" stroke="#000" stroke-width="1.4"/>
<line x1="48.80" y1="430.20" x2="253.00" y2="430.20" stroke="#000" stroke-width="1.4"/>
<line x1="45.60" y1="430.10" x2="48.80" y2="430.10" stroke="#1e1e1e" stroke-width="0.8"/>
<text x="42.20" y="433.90" font-size="8.9" text-anchor="end" fill="#1e1e1e" font-weight="normal" stroke="#1e1e1e" stroke-width="0.18">0</text>
<line x1="45.60" y1="396.12" x2="48.80" y2="396.12" stroke="#1e1e1e" stroke-width="0.8"/>
<text x="42.20" y="399.92" font-size="8.9" text-anchor="end" fill="#1e1e1e" font-weight="normal" stroke="#1e1e1e" stroke-width="0.18">20</text>
<line x1="45.60" y1="362.15" x2="48.80" y2="362.15" stroke="#1e1e1e" stroke-width="0.8"/>
<text x="42.20" y="365.95" font-size="8.9" text-anchor="end" fill="#1e1e1e" font-weight="normal" stroke="#1e1e1e" stroke-width="0.18">40</text>
<line x1="45.60" y1="328.17" x2="48.80" y2="328.17" stroke="#1e1e1e" stroke-width="0.8"/>
<text x="42.20" y="331.97" font-size="8.9" text-anchor="end" fill="#1e1e1e" font-weight="normal" stroke="#1e1e1e" stroke-width="0.18">60</text>
<line x1="45.60" y1="294.20" x2="48.80" y2="294.20" stroke="#1e1e1e" stroke-width="0.8"/>
<text x="42.20" y="298.00" font-size="8.9" text-anchor="end" fill="#1e1e1e" font-weight="normal" stroke="#1e1e1e" stroke-width="0.18">80</text>
<line x1="48.80" y1="414.00" x2="253.00" y2="414.00" stroke="#707070" stroke-width="1.3"/>
<line x1="61.40" y1="430.20" x2="61.40" y2="433.20" stroke="#1e1e1e" stroke-width="0.8"/>
<line x1="81.30" y1="430.20" x2="81.30" y2="433.20" stroke="#1e1e1e" stroke-width="0.8"/>
<line x1="120.80" y1="430.20" x2="120.80" y2="433.20" stroke="#1e1e1e" stroke-width="0.8"/>
<line x1="140.20" y1="430.20" x2="140.20" y2="433.20" stroke="#1e1e1e" stroke-width="0.8"/>
<line x1="160.40" y1="430.20" x2="160.40" y2="433.20" stroke="#1e1e1e" stroke-width="0.8"/>
<line x1="199.90" y1="430.20" x2="199.90" y2="433.20" stroke="#1e1e1e" stroke-width="0.8"/>
<line x1="219.80" y1="430.20" x2="219.80" y2="433.20" stroke="#1e1e1e" stroke-width="0.8"/>
<line x1="239.90" y1="430.20" x2="239.90" y2="433.20" stroke="#1e1e1e" stroke-width="0.8"/>
<text x="0" y="0" font-size="9.8" text-anchor="middle" fill="#1e1e1e" textLength="91.6" lengthAdjust="spacingAndGlyphs" stroke="#1e1e1e" stroke-width="0.35" transform="translate(25.60 361.15) rotate(-90)">CD69<tspan dy="-2.5" font-size="5.5">+</tspan><tspan dy="2.5">/CD137</tspan><tspan dy="-2.5" font-size="5.5">+</tspan><tspan dy="2.5"> [10</tspan><tspan dy="-2.5" font-size="5.5">4</tspan><tspan dy="2.5"> T cells]</tspan></text>
<line x1="117.80" y1="280.70" x2="157.60" y2="280.70" stroke="#111" stroke-width="1.1"/>
<circle cx="134.05" cy="275.90" r="1.05" fill="#222"/>
<circle cx="137.30" cy="275.90" r="1.05" fill="#222"/>
<circle cx="140.55" cy="275.90" r="1.05" fill="#222"/>
<line x1="117.80" y1="292.40" x2="139.70" y2="292.40" stroke="#111" stroke-width="1.1"/>
<circle cx="125.45" cy="287.60" r="1.05" fill="#222"/>
<circle cx="128.70" cy="287.60" r="1.05" fill="#222"/>
<circle cx="131.95" cy="287.60" r="1.05" fill="#222"/>
<line x1="199.90" y1="281.30" x2="239.70" y2="281.30" stroke="#111" stroke-width="1.1"/>
<text x="220.00" y="278.00" font-size="8" text-anchor="middle" fill="#1e1e1e" font-weight="normal" stroke="#1e1e1e" stroke-width="0.18">ns</text>
<line x1="199.90" y1="292.30" x2="222.40" y2="292.30" stroke="#111" stroke-width="1.1"/>
<text x="210.90" y="289.00" font-size="8" text-anchor="middle" fill="#1e1e1e" font-weight="normal" stroke="#1e1e1e" stroke-width="0.18">ns</text>
<text x="63.40" y="442.20" font-size="8.6" text-anchor="end" fill="#1e1e1e" stroke="#1e1e1e" stroke-width="0.18" transform="rotate(-45 63.40 442.20)">Convalescent</text>
<text x="83.30" y="442.20" font-size="8.6" text-anchor="end" fill="#1e1e1e" stroke="#1e1e1e" stroke-width="0.18" transform="rotate(-45 83.30 442.20)">HC VAC</text>
<text x="122.80" y="442.20" font-size="8.6" text-anchor="end" fill="#1e1e1e" stroke="#1e1e1e" stroke-width="0.18" transform="rotate(-45 122.80 442.20)">Pre</text>
<text x="142.20" y="442.20" font-size="8.6" text-anchor="end" fill="#1e1e1e" stroke="#1e1e1e" stroke-width="0.18" transform="rotate(-45 142.20 442.20)">M1/2</text>
<text x="162.40" y="442.20" font-size="8.6" text-anchor="end" fill="#1e1e1e" stroke="#1e1e1e" stroke-width="0.18" transform="rotate(-45 162.40 442.20)">M3-7</text>
<text x="201.90" y="442.20" font-size="8.6" text-anchor="end" fill="#1e1e1e" stroke="#1e1e1e" stroke-width="0.18" transform="rotate(-45 201.90 442.20)">Pre</text>
<text x="221.80" y="442.20" font-size="8.6" text-anchor="end" fill="#1e1e1e" stroke="#1e1e1e" stroke-width="0.18" transform="rotate(-45 221.80 442.20)">M1/2</text>
<text x="241.90" y="442.20" font-size="8.6" text-anchor="end" fill="#1e1e1e" stroke="#1e1e1e" stroke-width="0.18" transform="rotate(-45 241.90 442.20)">M3-7</text>
<line x1="114.80" y1="462.80" x2="172.90" y2="462.80" stroke="#000" stroke-width="1.25"/>
<text x="113.20" y="474.60" font-size="8.3" text-anchor="start" fill="#1e1e1e" font-weight="normal" stroke="#1e1e1e" stroke-width="0.18">CAR</text>
<text x="175.40" y="474.60" font-size="8.3" text-anchor="end" fill="#1e1e1e" font-weight="normal" stroke="#1e1e1e" stroke-width="0.18">VAC</text>
<line x1="137.02" y1="471.30" x2="149.75" y2="471.30" stroke="#000" stroke-width="1.5"/>
<path d="M153.75,471.30 L146.35,468.00 L148.15,471.30 L146.35,474.60 Z" fill="#000"/>
<line x1="193.00" y1="462.80" x2="249.80" y2="462.80" stroke="#000" stroke-width="1.25"/>
<text x="191.40" y="474.60" font-size="8.3" text-anchor="start" fill="#1e1e1e" font-weight="normal" stroke="#1e1e1e" stroke-width="0.18">VAC</text>
<text x="252.30" y="474.60" font-size="8.3" text-anchor="end" fill="#1e1e1e" font-weight="normal" stroke="#1e1e1e" stroke-width="0.18">CAR</text>
<line x1="214.15" y1="471.30" x2="225.58" y2="471.30" stroke="#000" stroke-width="1.5"/>
<path d="M229.58,471.30 L222.18,468.00 L223.98,471.30 L222.18,474.60 Z" fill="#000"/>
<line x1="61.60" y1="323.00" x2="61.60" y2="374.60" stroke="#cf1a43" stroke-width="0.8"/>
<line x1="61.60" y1="408.00" x2="61.60" y2="419.70" stroke="#cf1a43" stroke-width="0.8"/>
<rect x="55.80" y="374.60" width="11.70" height="33.40" fill="none" stroke="#cf1a43" stroke-width="0.8"/>
<line x1="55.80" y1="397.10" x2="67.50" y2="397.10" stroke="#cf1a43" stroke-width="0.8"/>
<line x1="59.00" y1="419.70" x2="64.20" y2="419.70" stroke="#cf1a43" stroke-width="0.8"/>
<rect x="60.20" y="336.60" width="2.8" height="2.8" fill="#fff" stroke="#c8133e" stroke-width="0.9"/>
<rect x="57.80" y="372.90" width="2.8" height="2.8" fill="#fff" stroke="#c8133e" stroke-width="0.9"/>
<rect x="62.60" y="371.40" width="2.8" height="2.8" fill="#fff" stroke="#c8133e" stroke-width="0.9"/>
<rect x="57.60" y="379.70" width="2.8" height="2.8" fill="#fff" stroke="#c8133e" stroke-width="0.9"/>
<rect x="63.00" y="378.00" width="2.8" height="2.8" fill="#fff" stroke="#c8133e" stroke-width="0.9"/>
<rect x="60.20" y="386.30" width="2.8" height="2.8" fill="#fff" stroke="#c8133e" stroke-width="0.9"/>
<rect x="63.00" y="395.70" width="2.8" height="2.8" fill="#fff" stroke="#c8133e" stroke-width="0.9"/>
<rect x="57.30" y="397.60" width="2.8" height="2.8" fill="#fff" stroke="#c8133e" stroke-width="0.9"/>
<rect x="60.20" y="400.80" width="2.8" height="2.8" fill="#fff" stroke="#c8133e" stroke-width="0.9"/>
<rect x="54.60" y="408.80" width="2.8" height="2.8" fill="#fff" stroke="#c8133e" stroke-width="0.9"/>
<rect x="65.60" y="405.90" width="2.8" height="2.8" fill="#fff" stroke="#c8133e" stroke-width="0.9"/>
<circle cx="61.60" cy="323.00" r="1.8" fill="#b40a31"/>
<circle cx="61.60" cy="406.90" r="1.8" fill="#b40a31"/>
<circle cx="61.60" cy="419.70" r="1.8" fill="#b40a31"/>
<line x1="81.30" y1="320.60" x2="81.30" y2="391.70" stroke="#cf1a43" stroke-width="0.8"/>
<line x1="81.30" y1="409.90" x2="81.30" y2="419.00" stroke="#cf1a43" stroke-width="0.8"/>
<rect x="75.00" y="391.70" width="12.60" height="18.20" fill="none" stroke="#cf1a43" stroke-width="0.8"/>
<line x1="75.00" y1="406.30" x2="87.60" y2="406.30" stroke="#cf1a43" stroke-width="0.8"/>
<line x1="78.60" y1="320.60" x2="84.00" y2="320.60" stroke="#cf1a43" stroke-width="0.8"/>
<line x1="78.60" y1="419.00" x2="84.00" y2="419.00" stroke="#cf1a43" stroke-width="0.8"/>
<circle cx="81.30" cy="320.60" r="1.5" fill="#b40a31"/>
<circle cx="81.30" cy="385.50" r="1.5" fill="#b40a31"/>
<circle cx="78.50" cy="391.30" r="1.5" fill="#b40a31"/>
<circle cx="84.50" cy="389.80" r="1.5" fill="#b40a31"/>
<circle cx="84.50" cy="392.80" r="1.5" fill="#b40a31"/>
<circle cx="78.50" cy="395.00" r="1.5" fill="#b40a31"/>
<circle cx="81.30" cy="398.30" r="1.5" fill="#b40a31"/>
<circle cx="77.00" cy="406.60" r="1.5" fill="#b40a31"/>
<circle cx="85.50" cy="405.10" r="1.5" fill="#b40a31"/>
<circle cx="77.00" cy="409.20" r="1.5" fill="#b40a31"/>
<circle cx="84.50" cy="410.20" r="1.5" fill="#b40a31"/>
<circle cx="81.30" cy="412.40" r="1.5" fill="#b40a31"/>
<circle cx="81.30" cy="419.00" r="1.5" fill="#b40a31"/>
<line x1="120.80" y1="417.00" x2="140.20" y2="369.20" stroke="#cf1a43" stroke-width="0.65"/>
<line x1="140.20" y1="369.20" x2="160.40" y2="374.00" stroke="#cf1a43" stroke-width="0.65"/>
<line x1="120.80" y1="419.00" x2="140.20" y2="376.50" stroke="#cf1a43" stroke-width="0.65"/>
<line x1="140.20" y1="376.50" x2="160.40" y2="393.00" stroke="#cf1a43" stroke-width="0.65"/>
<line x1="120.80" y1="420.50" x2="140.20" y2="379.60" stroke="#cf1a43" stroke-width="0.65"/>
<line x1="140.20" y1="379.60" x2="160.40" y2="393.00" stroke="#cf1a43" stroke-width="0.65"/>
<line x1="120.80" y1="422.00" x2="140.20" y2="399.00" stroke="#cf1a43" stroke-width="0.65"/>
<line x1="140.20" y1="399.00" x2="160.40" y2="387.50" stroke="#cf1a43" stroke-width="0.65"/>
<line x1="120.80" y1="423.50" x2="140.20" y2="406.25" stroke="#cf1a43" stroke-width="0.65"/>
<line x1="140.20" y1="406.25" x2="160.40" y2="400.40" stroke="#cf1a43" stroke-width="0.65"/>
<line x1="120.80" y1="425.00" x2="140.20" y2="407.70" stroke="#cf1a43" stroke-width="0.65"/>
<line x1="140.20" y1="407.70" x2="160.40" y2="405.60" stroke="#cf1a43" stroke-width="0.65"/>
<line x1="120.80" y1="426.00" x2="140.20" y2="409.80" stroke="#cf1a43" stroke-width="0.65"/>
<line x1="140.20" y1="409.80" x2="160.40" y2="407.00" stroke="#cf1a43" stroke-width="0.65"/>
<line x1="120.80" y1="427.50" x2="140.20" y2="411.90" stroke="#cf1a43" stroke-width="0.65"/>
<line x1="140.20" y1="411.90" x2="160.40" y2="411.25" stroke="#cf1a43" stroke-width="0.65"/>
<line x1="120.80" y1="424.00" x2="140.20" y2="422.90" stroke="#cf1a43" stroke-width="0.65"/>
<line x1="140.20" y1="422.90" x2="160.40" y2="419.00" stroke="#cf1a43" stroke-width="0.65"/>
<circle cx="120.80" cy="417.00" r="1.5" fill="#b40a31"/>
<circle cx="140.20" cy="369.20" r="1.5" fill="#b40a31"/>
<circle cx="160.40" cy="374.00" r="1.5" fill="#b40a31"/>
<circle cx="120.80" cy="419.00" r="1.5" fill="#b40a31"/>
<circle cx="140.20" cy="376.50" r="1.5" fill="#b40a31"/>
<rect x="159.00" y="391.60" width="2.8" height="2.8" fill="#fff" stroke="#c8133e" stroke-width="0.9"/>
<circle cx="120.80" cy="420.50" r="1.5" fill="#b40a31"/>
<circle cx="140.20" cy="379.60" r="1.5" fill="#b40a31"/>
<circle cx="160.40" cy="393.00" r="1.5" fill="#b40a31"/>
<circle cx="120.80" cy="422.00" r="1.5" fill="#b40a31"/>
<circle cx="140.20" cy="399.00" r="1.5" fill="#b40a31"/>
<circle cx="160.40" cy="387.50" r="1.5" fill="#b40a31"/>
<circle cx="120.80" cy="423.50" r="1.5" fill="#b40a31"/>
<circle cx="140.20" cy="406.25" r="1.5" fill="#b40a31"/>
<circle cx="160.40" cy="400.40" r="1.5" fill="#b40a31"/>
<circle cx="120.80" cy="425.00" r="1.5" fill="#b40a31"/>
<circle cx="140.20" cy="407.70" r="1.5" fill="#b40a31"/>
<circle cx="160.40" cy="405.60" r="1.5" fill="#b40a31"/>
<circle cx="120.80" cy="426.00" r="1.5" fill="#b40a31"/>
<circle cx="140.20" cy="409.80" r="1.5" fill="#b40a31"/>
<circle cx="160.40" cy="407.00" r="1.5" fill="#b40a31"/>
<circle cx="120.80" cy="427.50" r="1.5" fill="#b40a31"/>
<circle cx="140.20" cy="411.90" r="1.5" fill="#b40a31"/>
<circle cx="160.40" cy="411.25" r="1.5" fill="#b40a31"/>
<circle cx="120.80" cy="424.00" r="1.5" fill="#b40a31"/>
<circle cx="140.20" cy="422.90" r="1.5" fill="#b40a31"/>
<circle cx="160.40" cy="419.00" r="1.5" fill="#b40a31"/>
<line x1="199.90" y1="367.70" x2="219.80" y2="396.25" stroke="#cf1a43" stroke-width="0.65"/>
<line x1="199.90" y1="384.20" x2="219.80" y2="375.40" stroke="#cf1a43" stroke-width="0.65"/>
<line x1="219.80" y1="375.40" x2="239.90" y2="365.00" stroke="#cf1a43" stroke-width="0.65"/>
<line x1="199.90" y1="388.30" x2="219.80" y2="379.60" stroke="#cf1a43" stroke-width="0.65"/>
<line x1="219.80" y1="379.60" x2="239.90" y2="372.70" stroke="#cf1a43" stroke-width="0.65"/>
<line x1="199.90" y1="390.00" x2="219.80" y2="371.90" stroke="#cf1a43" stroke-width="0.65"/>
<line x1="199.90" y1="391.00" x2="219.80" y2="383.75" stroke="#cf1a43" stroke-width="0.65"/>
<line x1="199.90" y1="395.20" x2="219.80" y2="389.00" stroke="#cf1a43" stroke-width="0.65"/>
<line x1="219.80" y1="389.00" x2="239.90" y2="392.00" stroke="#cf1a43" stroke-width="0.65"/>
<line x1="199.90" y1="398.30" x2="219.80" y2="391.00" stroke="#cf1a43" stroke-width="0.65"/>
<line x1="219.80" y1="391.00" x2="239.90" y2="408.75" stroke="#cf1a43" stroke-width="0.65"/>
<line x1="199.90" y1="392.00" x2="219.80" y2="393.75" stroke="#cf1a43" stroke-width="0.65"/>
<line x1="199.90" y1="407.70" x2="219.80" y2="410.80" stroke="#cf1a43" stroke-width="0.65"/>
<line x1="199.90" y1="419.20" x2="219.80" y2="423.00" stroke="#cf1a43" stroke-width="0.65"/>
<line x1="219.80" y1="423.00" x2="239.90" y2="424.40" stroke="#cf1a43" stroke-width="0.65"/>
<line x1="199.90" y1="424.00" x2="219.80" y2="423.30" stroke="#cf1a43" stroke-width="0.65"/>
<rect x="198.50" y="366.30" width="2.8" height="2.8" fill="#fff" stroke="#c8133e" stroke-width="0.9"/>
<circle cx="219.80" cy="396.25" r="1.5" fill="#b40a31"/>
<circle cx="199.90" cy="384.20" r="1.5" fill="#b40a31"/>
<circle cx="219.80" cy="375.40" r="1.5" fill="#b40a31"/>
<circle cx="239.90" cy="365.00" r="1.5" fill="#b40a31"/>
<circle cx="199.90" cy="388.30" r="1.5" fill="#b40a31"/>
<circle cx="219.80" cy="379.60" r="1.5" fill="#b40a31"/>
<circle cx="239.90" cy="372.70" r="1.5" fill="#b40a31"/>
<circle cx="199.90" cy="390.00" r="1.5" fill="#b40a31"/>
<circle cx="219.80" cy="371.90" r="1.5" fill="#b40a31"/>
<circle cx="199.90" cy="391.00" r="1.5" fill="#b40a31"/>
<circle cx="219.80" cy="383.75" r="1.5" fill="#b40a31"/>
<circle cx="199.90" cy="395.20" r="1.5" fill="#b40a31"/>
<circle cx="219.80" cy="389.00" r="1.5" fill="#b40a31"/>
<circle cx="239.90" cy="392.00" r="1.5" fill="#b40a31"/>
<circle cx="199.90" cy="398.30" r="1.5" fill="#b40a31"/>
<circle cx="219.80" cy="391.00" r="1.5" fill="#b40a31"/>
<circle cx="239.90" cy="408.75" r="1.5" fill="#b40a31"/>
<circle cx="199.90" cy="392.00" r="1.5" fill="#b40a31"/>
<circle cx="219.80" cy="393.75" r="1.5" fill="#b40a31"/>
<circle cx="199.90" cy="407.70" r="1.5" fill="#b40a31"/>
<circle cx="219.80" cy="410.80" r="1.5" fill="#b40a31"/>
<circle cx="199.90" cy="419.20" r="1.5" fill="#b40a31"/>
<circle cx="219.80" cy="423.00" r="1.5" fill="#b40a31"/>
<circle cx="239.90" cy="424.40" r="1.5" fill="#b40a31"/>
<circle cx="199.90" cy="424.00" r="1.5" fill="#b40a31"/>
<circle cx="219.80" cy="423.30" r="1.5" fill="#b40a31"/>
<text x="416.70" y="265.30" font-size="10.0" text-anchor="middle" fill="#1e1e1e" font-weight="normal" stroke="#1e1e1e" stroke-width="0.18">Anti-N T-cell responses</text>
<line x1="314.60" y1="291.00" x2="314.60" y2="430.30" stroke="#000" stroke-width="1.4"/>
<line x1="314.60" y1="430.30" x2="519.30" y2="430.30" stroke="#000" stroke-width="1.4"/>
<line x1="311.40" y1="430.25" x2="314.60" y2="430.25" stroke="#1e1e1e" stroke-width="0.8"/>
<text x="308.70" y="434.05" font-size="8.9" text-anchor="end" fill="#1e1e1e" font-weight="normal" stroke="#1e1e1e" stroke-width="0.18">0</text>
<line x1="311.40" y1="396.25" x2="314.60" y2="396.25" stroke="#1e1e1e" stroke-width="0.8"/>
<text x="308.70" y="400.05" font-size="8.9" text-anchor="end" fill="#1e1e1e" font-weight="normal" stroke="#1e1e1e" stroke-width="0.18">20</text>
<line x1="311.40" y1="362.25" x2="314.60" y2="362.25" stroke="#1e1e1e" stroke-width="0.8"/>
<text x="308.70" y="366.05" font-size="8.9" text-anchor="end" fill="#1e1e1e" font-weight="normal" stroke="#1e1e1e" stroke-width="0.18">40</text>
<line x1="311.40" y1="328.25" x2="314.60" y2="328.25" stroke="#1e1e1e" stroke-width="0.8"/>
<text x="308.70" y="332.05" font-size="8.9" text-anchor="end" fill="#1e1e1e" font-weight="normal" stroke="#1e1e1e" stroke-width="0.18">60</text>
<line x1="311.40" y1="294.25" x2="314.60" y2="294.25" stroke="#1e1e1e" stroke-width="0.8"/>
<text x="308.70" y="298.05" font-size="8.9" text-anchor="end" fill="#1e1e1e" font-weight="normal" stroke="#1e1e1e" stroke-width="0.18">80</text>
<line x1="314.60" y1="414.30" x2="519.30" y2="414.30" stroke="#707070" stroke-width="1.3"/>
<line x1="327.60" y1="430.30" x2="327.60" y2="433.30" stroke="#1e1e1e" stroke-width="0.8"/>
<line x1="347.50" y1="430.30" x2="347.50" y2="433.30" stroke="#1e1e1e" stroke-width="0.8"/>
<line x1="386.90" y1="430.30" x2="386.90" y2="433.30" stroke="#1e1e1e" stroke-width="0.8"/>
<line x1="406.50" y1="430.30" x2="406.50" y2="433.30" stroke="#1e1e1e" stroke-width="0.8"/>
<line x1="426.50" y1="430.30" x2="426.50" y2="433.30" stroke="#1e1e1e" stroke-width="0.8"/>
<line x1="466.00" y1="430.30" x2="466.00" y2="433.30" stroke="#1e1e1e" stroke-width="0.8"/>
<line x1="485.60" y1="430.30" x2="485.60" y2="433.30" stroke="#1e1e1e" stroke-width="0.8"/>
<line x1="505.00" y1="430.30" x2="505.00" y2="433.30" stroke="#1e1e1e" stroke-width="0.8"/>
<text x="0" y="0" font-size="9.8" text-anchor="middle" fill="#1e1e1e" textLength="91.6" lengthAdjust="spacingAndGlyphs" stroke="#1e1e1e" stroke-width="0.35" transform="translate(291.60 361.15) rotate(-90)">CD69<tspan dy="-2.5" font-size="5.5">+</tspan><tspan dy="2.5">/CD137</tspan><tspan dy="-2.5" font-size="5.5">+</tspan><tspan dy="2.5"> [10</tspan><tspan dy="-2.5" font-size="5.5">4</tspan><tspan dy="2.5"> T cells]</tspan></text>
<line x1="383.60" y1="281.50" x2="423.30" y2="281.50" stroke="#111" stroke-width="1.1"/>
<text x="406.00" y="279.00" font-size="8" text-anchor="middle" fill="#1e1e1e" font-weight="normal" stroke="#1e1e1e" stroke-width="0.18">ns</text>
<line x1="383.60" y1="293.00" x2="406.00" y2="293.00" stroke="#111" stroke-width="1.1"/>
<text x="394.90" y="290.00" font-size="8" text-anchor="middle" fill="#1e1e1e" font-weight="normal" stroke="#1e1e1e" stroke-width="0.18">ns</text>
<line x1="465.90" y1="282.00" x2="505.70" y2="282.00" stroke="#111" stroke-width="1.1"/>
<text x="486.00" y="279.00" font-size="8" text-anchor="middle" fill="#1e1e1e" font-weight="normal" stroke="#1e1e1e" stroke-width="0.18">ns</text>
<line x1="465.90" y1="293.10" x2="488.40" y2="293.10" stroke="#111" stroke-width="1.1"/>
<text x="477.20" y="290.00" font-size="8" text-anchor="middle" fill="#1e1e1e" font-weight="normal" stroke="#1e1e1e" stroke-width="0.18">ns</text>
<text x="329.60" y="442.20" font-size="8.6" text-anchor="end" fill="#1e1e1e" stroke="#1e1e1e" stroke-width="0.18" transform="rotate(-45 329.60 442.20)">Convalescent</text>
<text x="349.50" y="442.20" font-size="8.6" text-anchor="end" fill="#1e1e1e" stroke="#1e1e1e" stroke-width="0.18" transform="rotate(-45 349.50 442.20)">HC VAC</text>
<text x="388.90" y="442.20" font-size="8.6" text-anchor="end" fill="#1e1e1e" stroke="#1e1e1e" stroke-width="0.18" transform="rotate(-45 388.90 442.20)">Pre</text>
<text x="408.50" y="442.20" font-size="8.6" text-anchor="end" fill="#1e1e1e" stroke="#1e1e1e" stroke-width="0.18" transform="rotate(-45 408.50 442.20)">M1/2</text>
<text x="428.50" y="442.20" font-size="8.6" text-anchor="end" fill="#1e1e1e" stroke="#1e1e1e" stroke-width="0.18" transform="rotate(-45 428.50 442.20)">M3-7</text>
<text x="468.00" y="442.20" font-size="8.6" text-anchor="end" fill="#1e1e1e" stroke="#1e1e1e" stroke-width="0.18" transform="rotate(-45 468.00 442.20)">Pre</text>
<text x="487.60" y="442.20" font-size="8.6" text-anchor="end" fill="#1e1e1e" stroke="#1e1e1e" stroke-width="0.18" transform="rotate(-45 487.60 442.20)">M1/2</text>
<text x="507.00" y="442.20" font-size="8.6" text-anchor="end" fill="#1e1e1e" stroke="#1e1e1e" stroke-width="0.18" transform="rotate(-45 507.00 442.20)">M3-7</text>
<line x1="381.00" y1="462.50" x2="438.60" y2="462.50" stroke="#000" stroke-width="1.25"/>
<text x="379.50" y="474.20" font-size="8.3" text-anchor="start" fill="#1e1e1e" font-weight="normal" stroke="#1e1e1e" stroke-width="0.18">CAR</text>
<text x="440.70" y="474.20" font-size="8.3" text-anchor="end" fill="#1e1e1e" font-weight="normal" stroke="#1e1e1e" stroke-width="0.18">VAC</text>
<line x1="403.32" y1="470.90" x2="415.05" y2="470.90" stroke="#000" stroke-width="1.5"/>
<path d="M419.05,470.90 L411.65,467.60 L413.45,470.90 L411.65,474.20 Z" fill="#000"/>
<line x1="458.00" y1="462.50" x2="518.50" y2="462.50" stroke="#000" stroke-width="1.25"/>
<text x="456.50" y="474.20" font-size="8.3" text-anchor="start" fill="#1e1e1e" font-weight="normal" stroke="#1e1e1e" stroke-width="0.18">VAC</text>
<text x="519.40" y="474.20" font-size="8.3" text-anchor="end" fill="#1e1e1e" font-weight="normal" stroke="#1e1e1e" stroke-width="0.18">CAR</text>
<line x1="479.25" y1="470.90" x2="492.68" y2="470.90" stroke="#000" stroke-width="1.5"/>
<path d="M496.68,470.90 L489.28,467.60 L491.08,470.90 L489.28,474.20 Z" fill="#000"/>
<line x1="327.60" y1="343.50" x2="327.60" y2="393.10" stroke="#cf1a43" stroke-width="0.8"/>
<line x1="327.60" y1="413.75" x2="327.60" y2="421.90" stroke="#cf1a43" stroke-width="0.8"/>
<rect x="321.90" y="393.10" width="12.10" height="20.65" fill="none" stroke="#cf1a43" stroke-width="0.8"/>
<line x1="321.90" y1="400.00" x2="334.00" y2="400.00" stroke="#cf1a43" stroke-width="0.8"/>
<line x1="325.00" y1="421.90" x2="330.20" y2="421.90" stroke="#cf1a43" stroke-width="0.8"/>
<line x1="325.00" y1="343.50" x2="330.20" y2="343.50" stroke="#cf1a43" stroke-width="0.8"/>
<rect x="326.1" y="342" width="3" height="3" fill="#c8133e" transform="rotate(45 327.6 343.5)"/>
<rect x="326.20" y="378.00" width="2.8" height="2.8" fill="#fff" stroke="#c8133e" stroke-width="0.9"/>
<rect x="326.20" y="387.35" width="2.8" height="2.8" fill="#fff" stroke="#c8133e" stroke-width="0.9"/>
<rect x="323.10" y="394.85" width="2.8" height="2.8" fill="#fff" stroke="#c8133e" stroke-width="0.9"/>
<rect x="329.10" y="394.60" width="2.8" height="2.8" fill="#fff" stroke="#c8133e" stroke-width="0.9"/>
<rect x="323.10" y="399.10" width="2.8" height="2.8" fill="#fff" stroke="#c8133e" stroke-width="0.9"/>
<rect x="329.10" y="400.10" width="2.8" height="2.8" fill="#fff" stroke="#c8133e" stroke-width="0.9"/>
<rect x="323.60" y="402.10" width="2.8" height="2.8" fill="#fff" stroke="#c8133e" stroke-width="0.9"/>
<rect x="326.20" y="404.85" width="2.8" height="2.8" fill="#fff" stroke="#c8133e" stroke-width="0.9"/>
<rect x="322.10" y="410.60" width="2.8" height="2.8" fill="#fff" stroke="#c8133e" stroke-width="0.9"/>
<rect x="326.20" y="411.10" width="2.8" height="2.8" fill="#fff" stroke="#c8133e" stroke-width="0.9"/>
<rect x="330.10" y="411.10" width="2.8" height="2.8" fill="#fff" stroke="#c8133e" stroke-width="0.9"/>
<circle cx="327.60" cy="421.90" r="1.8" fill="#b40a31"/>
<rect x="342.2" y="415.8" width="11" height="9.4" fill="none" stroke="#cf1a43" stroke-width="0.9"/>
<rect x="342.10" y="415.80" width="2.4" height="2.4" fill="none" stroke="#c8133e" stroke-width="0.9"/>
<rect x="345.10" y="416.10" width="2.4" height="2.4" fill="none" stroke="#c8133e" stroke-width="0.9"/>
<rect x="348.40" y="415.50" width="2.4" height="2.4" fill="none" stroke="#c8133e" stroke-width="0.9"/>
<rect x="351.10" y="416.30" width="2.4" height="2.4" fill="none" stroke="#c8133e" stroke-width="0.9"/>
<rect x="342.80" y="419.00" width="2.4" height="2.4" fill="none" stroke="#c8133e" stroke-width="0.9"/>
<rect x="346.30" y="419.30" width="2.4" height="2.4" fill="none" stroke="#c8133e" stroke-width="0.9"/>
<rect x="349.80" y="418.80" width="2.4" height="2.4" fill="none" stroke="#c8133e" stroke-width="0.9"/>
<rect x="342.30" y="422.30" width="2.4" height="2.4" fill="none" stroke="#c8133e" stroke-width="0.9"/>
<rect x="345.30" y="423.10" width="2.4" height="2.4" fill="none" stroke="#c8133e" stroke-width="0.9"/>
<rect x="348.80" y="422.30" width="2.4" height="2.4" fill="none" stroke="#c8133e" stroke-width="0.9"/>
<rect x="351.30" y="422.80" width="2.4" height="2.4" fill="none" stroke="#c8133e" stroke-width="0.9"/>
<rect x="346.80" y="417.30" width="2.4" height="2.4" fill="none" stroke="#c8133e" stroke-width="0.9"/>
<rect x="346.80" y="421.30" width="2.4" height="2.4" fill="none" stroke="#c8133e" stroke-width="0.9"/>
<circle cx="342.50" cy="425.20" r="1.4" fill="#b40a31"/>
<circle cx="352.50" cy="425.60" r="1.4" fill="#b40a31"/>
<circle cx="345.00" cy="421.50" r="1.4" fill="#b40a31"/>
<circle cx="350.50" cy="418.50" r="1.4" fill="#b40a31"/>
<circle cx="347.50" cy="425.00" r="1.4" fill="#b40a31"/>
<circle cx="353.00" cy="421.00" r="1.4" fill="#b40a31"/>
<circle cx="344.50" cy="418.50" r="1.4" fill="#b40a31"/>
<circle cx="351.50" cy="422.50" r="1.4" fill="#b40a31"/>
<circle cx="349.00" cy="421.00" r="1.4" fill="#b40a31"/>
<line x1="386.90" y1="414.80" x2="406.70" y2="414.80" stroke="#cf1a43" stroke-width="0.65"/>
<line x1="406.70" y1="414.80" x2="426.30" y2="408.70" stroke="#cf1a43" stroke-width="0.65"/>
<line x1="386.90" y1="419.00" x2="406.70" y2="424.90" stroke="#cf1a43" stroke-width="0.65"/>
<line x1="406.70" y1="424.90" x2="426.30" y2="424.30" stroke="#cf1a43" stroke-width="0.65"/>
<line x1="386.90" y1="421.70" x2="406.70" y2="419.60" stroke="#cf1a43" stroke-width="0.65"/>
<line x1="406.70" y1="419.60" x2="426.30" y2="418.50" stroke="#cf1a43" stroke-width="0.65"/>
<line x1="386.90" y1="424.30" x2="406.70" y2="416.90" stroke="#cf1a43" stroke-width="0.65"/>
<line x1="406.70" y1="416.90" x2="426.30" y2="416.90" stroke="#cf1a43" stroke-width="0.65"/>
<line x1="386.90" y1="427.00" x2="406.70" y2="422.20" stroke="#cf1a43" stroke-width="0.65"/>
<line x1="406.70" y1="422.20" x2="426.30" y2="420.10" stroke="#cf1a43" stroke-width="0.65"/>
<line x1="386.90" y1="429.60" x2="406.70" y2="427.00" stroke="#cf1a43" stroke-width="0.65"/>
<line x1="406.70" y1="427.00" x2="426.30" y2="424.30" stroke="#cf1a43" stroke-width="0.65"/>
<line x1="386.90" y1="416.50" x2="406.70" y2="414.80" stroke="#cf1a43" stroke-width="0.65"/>
<circle cx="386.90" cy="414.80" r="1.5" fill="#b40a31"/>
<circle cx="406.70" cy="414.80" r="1.5" fill="#b40a31"/>
<rect x="424.90" y="407.30" width="2.8" height="2.8" fill="#fff" stroke="#c8133e" stroke-width="0.9"/>
<circle cx="386.90" cy="419.00" r="1.5" fill="#b40a31"/>
<circle cx="406.70" cy="424.90" r="1.5" fill="#b40a31"/>
<circle cx="426.30" cy="424.30" r="1.5" fill="#b40a31"/>
<circle cx="386.90" cy="421.70" r="1.5" fill="#b40a31"/>
<circle cx="406.70" cy="419.60" r="1.5" fill="#b40a31"/>
<circle cx="426.30" cy="418.50" r="1.5" fill="#b40a31"/>
<circle cx="386.90" cy="424.30" r="1.5" fill="#b40a31"/>
<circle cx="406.70" cy="416.90" r="1.5" fill="#b40a31"/>
<circle cx="426.30" cy="416.90" r="1.5" fill="#b40a31"/>
<circle cx="386.90" cy="427.00" r="1.5" fill="#b40a31"/>
<circle cx="406.70" cy="422.20" r="1.5" fill="#b40a31"/>
<circle cx="426.30" cy="420.10" r="1.5" fill="#b40a31"/>
<circle cx="386.90" cy="429.60" r="1.5" fill="#b40a31"/>
<circle cx="406.70" cy="427.00" r="1.5" fill="#b40a31"/>
<circle cx="426.30" cy="424.30" r="1.5" fill="#b40a31"/>
<circle cx="386.90" cy="416.50" r="1.5" fill="#b40a31"/>
<circle cx="406.70" cy="414.80" r="1.5" fill="#b40a31"/>
<line x1="466.00" y1="346.00" x2="485.60" y2="390.10" stroke="#cf1a43" stroke-width="0.65"/>
<line x1="466.00" y1="391.50" x2="485.60" y2="400.50" stroke="#cf1a43" stroke-width="0.65"/>
<line x1="466.00" y1="413.80" x2="485.60" y2="412.90" stroke="#cf1a43" stroke-width="0.65"/>
<line x1="485.60" y1="412.90" x2="505.30" y2="416.40" stroke="#cf1a43" stroke-width="0.65"/>
<line x1="466.00" y1="417.50" x2="485.60" y2="414.80" stroke="#cf1a43" stroke-width="0.65"/>
<line x1="485.60" y1="414.80" x2="505.30" y2="418.50" stroke="#cf1a43" stroke-width="0.65"/>
<line x1="466.00" y1="419.60" x2="485.60" y2="422.80" stroke="#cf1a43" stroke-width="0.65"/>
<line x1="485.60" y1="422.80" x2="505.30" y2="430.70" stroke="#cf1a43" stroke-width="0.65"/>
<line x1="466.00" y1="421.20" x2="485.60" y2="419.60" stroke="#cf1a43" stroke-width="0.65"/>
<line x1="485.60" y1="419.60" x2="505.30" y2="418.50" stroke="#cf1a43" stroke-width="0.65"/>
<line x1="466.00" y1="422.80" x2="485.60" y2="430.20" stroke="#cf1a43" stroke-width="0.65"/>
<line x1="466.00" y1="426.50" x2="485.60" y2="424.90" stroke="#cf1a43" stroke-width="0.65"/>
<line x1="485.60" y1="424.90" x2="505.30" y2="421.20" stroke="#cf1a43" stroke-width="0.65"/>
<line x1="466.00" y1="419.00" x2="485.60" y2="427.00" stroke="#cf1a43" stroke-width="0.65"/>
<line x1="466.00" y1="421.20" x2="485.60" y2="416.90" stroke="#cf1a43" stroke-width="0.65"/>
<line x1="485.60" y1="416.90" x2="505.30" y2="421.20" stroke="#cf1a43" stroke-width="0.65"/>
<rect x="464.60" y="344.60" width="2.8" height="2.8" fill="#fff" stroke="#c8133e" stroke-width="0.9"/>
<rect x="484.20" y="388.70" width="2.8" height="2.8" fill="#fff" stroke="#c8133e" stroke-width="0.9"/>
<rect x="464.60" y="390.10" width="2.8" height="2.8" fill="#fff" stroke="#c8133e" stroke-width="0.9"/>
<rect x="484.20" y="399.10" width="2.8" height="2.8" fill="#fff" stroke="#c8133e" stroke-width="0.9"/>
<circle cx="466.00" cy="413.80" r="1.5" fill="#b40a31"/>
<circle cx="485.60" cy="412.90" r="1.5" fill="#b40a31"/>
<circle cx="505.30" cy="416.40" r="1.5" fill="#b40a31"/>
<circle cx="466.00" cy="417.50" r="1.5" fill="#b40a31"/>
<circle cx="485.60" cy="414.80" r="1.5" fill="#b40a31"/>
<circle cx="505.30" cy="418.50" r="1.5" fill="#b40a31"/>
<circle cx="466.00" cy="419.60" r="1.5" fill="#b40a31"/>
<circle cx="485.60" cy="422.80" r="1.5" fill="#b40a31"/>
<circle cx="505.30" cy="430.70" r="1.5" fill="#b40a31"/>
<circle cx="466.00" cy="421.20" r="1.5" fill="#b40a31"/>
<circle cx="485.60" cy="419.60" r="1.5" fill="#b40a31"/>
<circle cx="505.30" cy="418.50" r="1.5" fill="#b40a31"/>
<circle cx="466.00" cy="422.80" r="1.5" fill="#b40a31"/>
<circle cx="485.60" cy="430.20" r="1.5" fill="#b40a31"/>
<circle cx="466.00" cy="426.50" r="1.5" fill="#b40a31"/>
<circle cx="485.60" cy="424.90" r="1.5" fill="#b40a31"/>
<circle cx="505.30" cy="421.20" r="1.5" fill="#b40a31"/>
<circle cx="466.00" cy="419.00" r="1.5" fill="#b40a31"/>
<circle cx="485.60" cy="427.00" r="1.5" fill="#b40a31"/>
<circle cx="466.00" cy="421.20" r="1.5" fill="#b40a31"/>
<circle cx="485.60" cy="416.90" r="1.5" fill="#b40a31"/>
<circle cx="505.30" cy="421.20" r="1.5" fill="#b40a31"/>
</svg>
</body></html>
